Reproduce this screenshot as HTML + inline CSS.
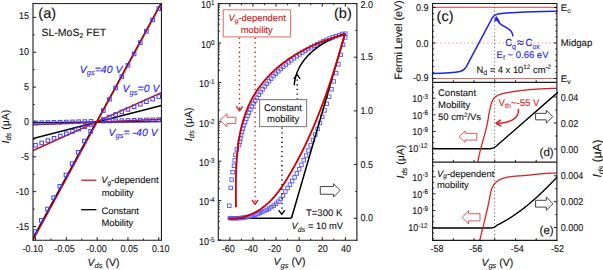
<!DOCTYPE html>
<html><head><meta charset="utf-8"><style>
html,body{margin:0;padding:0;background:#fff;width:603px;height:270px;overflow:hidden}
svg{display:block;font-family:"Liberation Sans", sans-serif;text-rendering:geometricPrecision}
</style></head><body>
<svg width="603" height="270" viewBox="0 0 603 270">
<rect width="603" height="270" fill="#fff"/>
<clipPath id="ca"><rect x="33.0" y="3.6" width="128.45" height="236.6"/></clipPath>
<g clip-path="url(#ca)">
<line x1="33.00" y1="122.80" x2="161.45" y2="121.50" stroke="#000" stroke-width="1.4" />
<line x1="33.00" y1="124.90" x2="161.45" y2="119.20" stroke="#dd0000" stroke-width="1.4" />
<line x1="33.00" y1="138.50" x2="161.45" y2="105.50" stroke="#000" stroke-width="1.4" />
<line x1="33.00" y1="150.60" x2="161.45" y2="92.60" stroke="#dd0000" stroke-width="1.4" />
<line x1="31.37" y1="240.50" x2="95.80" y2="122.20" stroke="#4040ff" stroke-width="1.1" />
<line x1="32.17" y1="240.50" x2="160.96" y2="3.30" stroke="#000" stroke-width="1.3" />
<line x1="32.87" y1="240.50" x2="161.46" y2="3.30" stroke="#dd0000" stroke-width="1.4" />
<rect x="33.75" y="121.03" width="3.6" height="3.6" fill="none" stroke="#4040ff" stroke-width="1.0"/>
<rect x="39.91" y="120.88" width="3.6" height="3.6" fill="none" stroke="#4040ff" stroke-width="1.0"/>
<rect x="46.07" y="120.72" width="3.6" height="3.6" fill="none" stroke="#4040ff" stroke-width="1.0"/>
<rect x="52.23" y="120.56" width="3.6" height="3.6" fill="none" stroke="#4040ff" stroke-width="1.0"/>
<rect x="58.39" y="120.40" width="3.6" height="3.6" fill="none" stroke="#4040ff" stroke-width="1.0"/>
<rect x="64.55" y="120.24" width="3.6" height="3.6" fill="none" stroke="#4040ff" stroke-width="1.0"/>
<rect x="70.71" y="120.08" width="3.6" height="3.6" fill="none" stroke="#4040ff" stroke-width="1.0"/>
<rect x="76.87" y="119.93" width="3.6" height="3.6" fill="none" stroke="#4040ff" stroke-width="1.0"/>
<rect x="83.03" y="119.77" width="3.6" height="3.6" fill="none" stroke="#4040ff" stroke-width="1.0"/>
<rect x="89.19" y="119.61" width="3.6" height="3.6" fill="none" stroke="#4040ff" stroke-width="1.0"/>
<rect x="101.51" y="119.29" width="3.6" height="3.6" fill="none" stroke="#4040ff" stroke-width="1.0"/>
<rect x="107.67" y="119.14" width="3.6" height="3.6" fill="none" stroke="#4040ff" stroke-width="1.0"/>
<rect x="113.83" y="118.98" width="3.6" height="3.6" fill="none" stroke="#4040ff" stroke-width="1.0"/>
<rect x="119.99" y="118.82" width="3.6" height="3.6" fill="none" stroke="#4040ff" stroke-width="1.0"/>
<rect x="126.15" y="118.66" width="3.6" height="3.6" fill="none" stroke="#4040ff" stroke-width="1.0"/>
<rect x="132.31" y="118.50" width="3.6" height="3.6" fill="none" stroke="#4040ff" stroke-width="1.0"/>
<rect x="138.47" y="118.34" width="3.6" height="3.6" fill="none" stroke="#4040ff" stroke-width="1.0"/>
<rect x="144.63" y="118.19" width="3.6" height="3.6" fill="none" stroke="#4040ff" stroke-width="1.0"/>
<rect x="150.79" y="118.03" width="3.6" height="3.6" fill="none" stroke="#4040ff" stroke-width="1.0"/>
<rect x="156.95" y="117.87" width="3.6" height="3.6" fill="none" stroke="#4040ff" stroke-width="1.0"/>
<rect x="33.75" y="143.44" width="3.6" height="3.6" fill="none" stroke="#4040ff" stroke-width="1.0"/>
<rect x="39.91" y="141.13" width="3.6" height="3.6" fill="none" stroke="#4040ff" stroke-width="1.0"/>
<rect x="46.07" y="138.82" width="3.6" height="3.6" fill="none" stroke="#4040ff" stroke-width="1.0"/>
<rect x="52.23" y="136.51" width="3.6" height="3.6" fill="none" stroke="#4040ff" stroke-width="1.0"/>
<rect x="58.39" y="134.20" width="3.6" height="3.6" fill="none" stroke="#4040ff" stroke-width="1.0"/>
<rect x="64.55" y="131.89" width="3.6" height="3.6" fill="none" stroke="#4040ff" stroke-width="1.0"/>
<rect x="70.71" y="129.58" width="3.6" height="3.6" fill="none" stroke="#4040ff" stroke-width="1.0"/>
<rect x="76.87" y="127.27" width="3.6" height="3.6" fill="none" stroke="#4040ff" stroke-width="1.0"/>
<rect x="83.03" y="124.96" width="3.6" height="3.6" fill="none" stroke="#4040ff" stroke-width="1.0"/>
<rect x="89.19" y="122.65" width="3.6" height="3.6" fill="none" stroke="#4040ff" stroke-width="1.0"/>
<rect x="101.51" y="117.78" width="3.6" height="3.6" fill="none" stroke="#4040ff" stroke-width="1.0"/>
<rect x="107.67" y="115.22" width="3.6" height="3.6" fill="none" stroke="#4040ff" stroke-width="1.0"/>
<rect x="113.83" y="112.67" width="3.6" height="3.6" fill="none" stroke="#4040ff" stroke-width="1.0"/>
<rect x="119.99" y="110.11" width="3.6" height="3.6" fill="none" stroke="#4040ff" stroke-width="1.0"/>
<rect x="126.15" y="107.56" width="3.6" height="3.6" fill="none" stroke="#4040ff" stroke-width="1.0"/>
<rect x="132.31" y="105.00" width="3.6" height="3.6" fill="none" stroke="#4040ff" stroke-width="1.0"/>
<rect x="138.47" y="102.44" width="3.6" height="3.6" fill="none" stroke="#4040ff" stroke-width="1.0"/>
<rect x="144.63" y="99.89" width="3.6" height="3.6" fill="none" stroke="#4040ff" stroke-width="1.0"/>
<rect x="150.79" y="97.33" width="3.6" height="3.6" fill="none" stroke="#4040ff" stroke-width="1.0"/>
<rect x="156.95" y="94.77" width="3.6" height="3.6" fill="none" stroke="#4040ff" stroke-width="1.0"/>
<rect x="33.35" y="229.90" width="3.6" height="3.6" fill="none" stroke="#4040ff" stroke-width="1.0"/>
<rect x="39.51" y="218.57" width="3.6" height="3.6" fill="none" stroke="#4040ff" stroke-width="1.0"/>
<rect x="45.67" y="207.24" width="3.6" height="3.6" fill="none" stroke="#4040ff" stroke-width="1.0"/>
<rect x="51.83" y="195.90" width="3.6" height="3.6" fill="none" stroke="#4040ff" stroke-width="1.0"/>
<rect x="57.99" y="184.57" width="3.6" height="3.6" fill="none" stroke="#4040ff" stroke-width="1.0"/>
<rect x="64.15" y="173.23" width="3.6" height="3.6" fill="none" stroke="#4040ff" stroke-width="1.0"/>
<rect x="70.31" y="161.90" width="3.6" height="3.6" fill="none" stroke="#4040ff" stroke-width="1.0"/>
<rect x="76.47" y="150.56" width="3.6" height="3.6" fill="none" stroke="#4040ff" stroke-width="1.0"/>
<rect x="82.63" y="139.23" width="3.6" height="3.6" fill="none" stroke="#4040ff" stroke-width="1.0"/>
<rect x="88.79" y="129.59" width="3.6" height="3.6" fill="none" stroke="#4040ff" stroke-width="1.0"/>
<rect x="101.51" y="108.79" width="3.6" height="3.6" fill="none" stroke="#4040ff" stroke-width="1.0"/>
<rect x="107.67" y="97.46" width="3.6" height="3.6" fill="none" stroke="#4040ff" stroke-width="1.0"/>
<rect x="113.83" y="86.12" width="3.6" height="3.6" fill="none" stroke="#4040ff" stroke-width="1.0"/>
<rect x="119.99" y="74.79" width="3.6" height="3.6" fill="none" stroke="#4040ff" stroke-width="1.0"/>
<rect x="126.15" y="63.45" width="3.6" height="3.6" fill="none" stroke="#4040ff" stroke-width="1.0"/>
<rect x="132.31" y="52.12" width="3.6" height="3.6" fill="none" stroke="#4040ff" stroke-width="1.0"/>
<rect x="138.47" y="40.78" width="3.6" height="3.6" fill="none" stroke="#4040ff" stroke-width="1.0"/>
<rect x="144.63" y="29.45" width="3.6" height="3.6" fill="none" stroke="#4040ff" stroke-width="1.0"/>
<rect x="150.79" y="18.11" width="3.6" height="3.6" fill="none" stroke="#4040ff" stroke-width="1.0"/>
<rect x="156.95" y="6.78" width="3.6" height="3.6" fill="none" stroke="#4040ff" stroke-width="1.0"/>
</g>
<line x1="33.00" y1="3.60" x2="161.45" y2="3.60" stroke="#1a1a1a" stroke-width="1.0" />
<line x1="33.00" y1="3.10" x2="33.00" y2="240.70" stroke="#1a1a1a" stroke-width="1.1" />
<line x1="161.45" y1="3.10" x2="161.45" y2="240.70" stroke="#1a1a1a" stroke-width="1.1" />
<line x1="32.50" y1="240.20" x2="161.95" y2="240.20" stroke="#1a1a1a" stroke-width="1.1" />
<line x1="33.00" y1="17.40" x2="36.00" y2="17.40" stroke="#1a1a1a" stroke-width="1.0" />
<text transform="translate(28.90 18.95) scale(1 1.1)" font-size="9" text-anchor="end" fill="#111" stroke="#111" stroke-width="0.1" >15</text>
<line x1="33.00" y1="52.25" x2="36.00" y2="52.25" stroke="#1a1a1a" stroke-width="1.0" />
<text transform="translate(28.90 55.35) scale(1 1.1)" font-size="9" text-anchor="end" fill="#111" stroke="#111" stroke-width="0.1" >10</text>
<line x1="33.00" y1="87.10" x2="36.00" y2="87.10" stroke="#1a1a1a" stroke-width="1.0" />
<text transform="translate(28.90 90.20) scale(1 1.1)" font-size="9" text-anchor="end" fill="#111" stroke="#111" stroke-width="0.1" >5</text>
<line x1="33.00" y1="121.95" x2="36.00" y2="121.95" stroke="#1a1a1a" stroke-width="1.0" />
<text transform="translate(28.90 125.05) scale(1 1.1)" font-size="9" text-anchor="end" fill="#111" stroke="#111" stroke-width="0.1" >0</text>
<line x1="33.00" y1="156.80" x2="36.00" y2="156.80" stroke="#1a1a1a" stroke-width="1.0" />
<text transform="translate(28.90 159.90) scale(1 1.1)" font-size="9" text-anchor="end" fill="#111" stroke="#111" stroke-width="0.1" >-5</text>
<line x1="33.00" y1="191.65" x2="36.00" y2="191.65" stroke="#1a1a1a" stroke-width="1.0" />
<text transform="translate(28.90 194.75) scale(1 1.1)" font-size="9" text-anchor="end" fill="#111" stroke="#111" stroke-width="0.1" >-10</text>
<line x1="33.00" y1="226.50" x2="36.00" y2="226.50" stroke="#1a1a1a" stroke-width="1.0" />
<text transform="translate(28.90 229.60) scale(1 1.1)" font-size="9" text-anchor="end" fill="#111" stroke="#111" stroke-width="0.1" >-15</text>
<line x1="33.00" y1="34.83" x2="34.60" y2="34.83" stroke="#1a1a1a" stroke-width="1.0" />
<line x1="33.00" y1="69.68" x2="34.60" y2="69.68" stroke="#1a1a1a" stroke-width="1.0" />
<line x1="33.00" y1="104.53" x2="34.60" y2="104.53" stroke="#1a1a1a" stroke-width="1.0" />
<line x1="33.00" y1="139.38" x2="34.60" y2="139.38" stroke="#1a1a1a" stroke-width="1.0" />
<line x1="33.00" y1="174.22" x2="34.60" y2="174.22" stroke="#1a1a1a" stroke-width="1.0" />
<line x1="33.00" y1="209.07" x2="34.60" y2="209.07" stroke="#1a1a1a" stroke-width="1.0" />
<line x1="35.55" y1="240.20" x2="35.55" y2="237.20" stroke="#1a1a1a" stroke-width="1.0" />
<text transform="translate(32.65 251.60) scale(1 1.1)" font-size="9" text-anchor="middle" fill="#111" stroke="#111" stroke-width="0.1" >-0.10</text>
<line x1="66.35" y1="240.20" x2="66.35" y2="237.20" stroke="#1a1a1a" stroke-width="1.0" />
<text transform="translate(64.45 251.60) scale(1 1.1)" font-size="9" text-anchor="middle" fill="#111" stroke="#111" stroke-width="0.1" >-0.05</text>
<line x1="97.15" y1="240.20" x2="97.15" y2="237.20" stroke="#1a1a1a" stroke-width="1.0" />
<text transform="translate(96.55 251.60) scale(1 1.1)" font-size="9" text-anchor="middle" fill="#111" stroke="#111" stroke-width="0.1" >-0.00</text>
<line x1="127.95" y1="240.20" x2="127.95" y2="237.20" stroke="#1a1a1a" stroke-width="1.0" />
<text transform="translate(129.15 251.60) scale(1 1.1)" font-size="9" text-anchor="middle" fill="#111" stroke="#111" stroke-width="0.1" >0.05</text>
<line x1="158.75" y1="240.20" x2="158.75" y2="237.20" stroke="#1a1a1a" stroke-width="1.0" />
<text transform="translate(160.75 251.60) scale(1 1.1)" font-size="9" text-anchor="middle" fill="#111" stroke="#111" stroke-width="0.1" >0.10</text>
<line x1="50.95" y1="240.20" x2="50.95" y2="238.60" stroke="#1a1a1a" stroke-width="1.0" />
<line x1="81.75" y1="240.20" x2="81.75" y2="238.60" stroke="#1a1a1a" stroke-width="1.0" />
<line x1="112.55" y1="240.20" x2="112.55" y2="238.60" stroke="#1a1a1a" stroke-width="1.0" />
<line x1="143.35" y1="240.20" x2="143.35" y2="238.60" stroke="#1a1a1a" stroke-width="1.0" />
<text transform="translate(38.30 17.80)" font-size="14.5" text-anchor="start" fill="#111" stroke="#111" stroke-width="0.1" >(a)</text>
<text transform="translate(41.50 35.60)" font-size="10.5" text-anchor="start" fill="#111" stroke="#111" stroke-width="0.1" >SL-MoS<tspan font-size="7" dy="2.2">2</tspan><tspan dy="-2.2"> FET</tspan></text>
<text transform="translate(79.80 72.50)" font-size="10.5" text-anchor="start" fill="#2323f0" stroke="#2323f0" stroke-width="0.1" ><tspan font-style="italic">V</tspan><tspan font-style="italic" font-size="7.5" dy="2.6">gs</tspan><tspan font-style="italic" dy="-2.6">=40 V</tspan></text>
<text transform="translate(122.60 92.00)" font-size="10.5" text-anchor="start" fill="#2323f0" stroke="#2323f0" stroke-width="0.1" ><tspan font-style="italic">V</tspan><tspan font-style="italic" font-size="7.5" dy="2.6">gs</tspan><tspan font-style="italic" dy="-2.6">=0 V</tspan></text>
<text transform="translate(108.60 135.60)" font-size="10.5" text-anchor="start" fill="#2323f0" stroke="#2323f0" stroke-width="0.1" ><tspan font-style="italic">V</tspan><tspan font-style="italic" font-size="7.5" dy="2.6">gs</tspan><tspan font-style="italic" dy="-2.6">= -40 V</tspan></text>
<line x1="81.30" y1="180.20" x2="96.30" y2="180.20" stroke="#dd0000" stroke-width="1.2" />
<line x1="81.10" y1="209.70" x2="96.40" y2="209.70" stroke="#000" stroke-width="1.3" />
<text transform="translate(101.20 183.30)" font-size="9.4" text-anchor="start" fill="#111" stroke="#111" stroke-width="0.1" ><tspan font-style="italic">V</tspan><tspan font-style="italic" font-size="6.5" dy="1.7">g</tspan><tspan dy="-1.7">-dependent</tspan></text>
<text transform="translate(101.80 195.60)" font-size="9.4" text-anchor="start" fill="#111" stroke="#111" stroke-width="0.1" >mobility</text>
<text transform="translate(101.40 213.90)" font-size="9.4" text-anchor="start" fill="#111" stroke="#111" stroke-width="0.1" >Constant</text>
<text transform="translate(101.40 226.40)" font-size="9.4" text-anchor="start" fill="#111" stroke="#111" stroke-width="0.1" >Mobility</text>
<text transform="translate(87.60 265.80)" font-size="10.5" text-anchor="start" fill="#111" stroke="#111" stroke-width="0.1" ><tspan font-style="italic">V</tspan><tspan font-style="italic" font-size="7.5" dy="2.4">ds</tspan><tspan dy="-2.4"> (V)</tspan></text>
<text transform="translate(8.90 143.50) rotate(-90)" font-size="10.5" text-anchor="start" fill="#111" stroke="#111" stroke-width="0.1" ><tspan font-style="italic">I</tspan><tspan font-style="italic" font-size="7.5" dy="2.4">ds</tspan><tspan dy="-2.4"> (μA)</tspan></text>
<clipPath id="cb"><rect x="218.3" y="3.6" width="138.59999999999997" height="236.6"/></clipPath>
<g clip-path="url(#cb)">
<path d="M228.5,218.3 L290.2,218.3 Q291.4,218.3 291.8,217.0" fill="none" stroke="#000" stroke-width="1.5" stroke-linejoin="round" stroke-linecap="round" />
<rect x="228.10" y="216.36" width="3.5" height="3.5" fill="none" stroke="#5656ff" stroke-width="0.9"/>
<rect x="230.41" y="216.49" width="3.5" height="3.5" fill="none" stroke="#5656ff" stroke-width="0.9"/>
<rect x="232.72" y="216.54" width="3.5" height="3.5" fill="none" stroke="#5656ff" stroke-width="0.9"/>
<rect x="235.03" y="216.49" width="3.5" height="3.5" fill="none" stroke="#5656ff" stroke-width="0.9"/>
<rect x="237.34" y="216.36" width="3.5" height="3.5" fill="none" stroke="#5656ff" stroke-width="0.9"/>
<rect x="239.65" y="216.15" width="3.5" height="3.5" fill="none" stroke="#5656ff" stroke-width="0.9"/>
<rect x="241.96" y="215.84" width="3.5" height="3.5" fill="none" stroke="#5656ff" stroke-width="0.9"/>
<rect x="244.27" y="215.45" width="3.5" height="3.5" fill="none" stroke="#5656ff" stroke-width="0.9"/>
<rect x="246.58" y="214.97" width="3.5" height="3.5" fill="none" stroke="#5656ff" stroke-width="0.9"/>
<rect x="248.89" y="214.40" width="3.5" height="3.5" fill="none" stroke="#5656ff" stroke-width="0.9"/>
<rect x="251.20" y="213.75" width="3.5" height="3.5" fill="none" stroke="#5656ff" stroke-width="0.9"/>
<rect x="253.51" y="213.01" width="3.5" height="3.5" fill="none" stroke="#5656ff" stroke-width="0.9"/>
<rect x="255.82" y="212.19" width="3.5" height="3.5" fill="none" stroke="#5656ff" stroke-width="0.9"/>
<rect x="258.13" y="211.28" width="3.5" height="3.5" fill="none" stroke="#5656ff" stroke-width="0.9"/>
<rect x="260.44" y="210.30" width="3.5" height="3.5" fill="none" stroke="#5656ff" stroke-width="0.9"/>
<rect x="262.75" y="209.23" width="3.5" height="3.5" fill="none" stroke="#5656ff" stroke-width="0.9"/>
<rect x="265.06" y="208.08" width="3.5" height="3.5" fill="none" stroke="#5656ff" stroke-width="0.9"/>
<rect x="267.37" y="206.83" width="3.5" height="3.5" fill="none" stroke="#5656ff" stroke-width="0.9"/>
<rect x="269.68" y="205.43" width="3.5" height="3.5" fill="none" stroke="#5656ff" stroke-width="0.9"/>
<rect x="271.99" y="203.86" width="3.5" height="3.5" fill="none" stroke="#5656ff" stroke-width="0.9"/>
<rect x="274.30" y="202.05" width="3.5" height="3.5" fill="none" stroke="#5656ff" stroke-width="0.9"/>
<rect x="276.61" y="199.90" width="3.5" height="3.5" fill="none" stroke="#5656ff" stroke-width="0.9"/>
<rect x="278.92" y="197.21" width="3.5" height="3.5" fill="none" stroke="#5656ff" stroke-width="0.9"/>
<rect x="281.23" y="193.75" width="3.5" height="3.5" fill="none" stroke="#5656ff" stroke-width="0.9"/>
<rect x="283.54" y="189.85" width="3.5" height="3.5" fill="none" stroke="#5656ff" stroke-width="0.9"/>
<rect x="285.85" y="186.23" width="3.5" height="3.5" fill="none" stroke="#5656ff" stroke-width="0.9"/>
<rect x="288.16" y="182.88" width="3.5" height="3.5" fill="none" stroke="#5656ff" stroke-width="0.9"/>
<rect x="290.47" y="179.36" width="3.5" height="3.5" fill="none" stroke="#5656ff" stroke-width="0.9"/>
<rect x="292.78" y="175.63" width="3.5" height="3.5" fill="none" stroke="#5656ff" stroke-width="0.9"/>
<rect x="295.09" y="171.69" width="3.5" height="3.5" fill="none" stroke="#5656ff" stroke-width="0.9"/>
<rect x="297.40" y="167.52" width="3.5" height="3.5" fill="none" stroke="#5656ff" stroke-width="0.9"/>
<rect x="299.71" y="163.13" width="3.5" height="3.5" fill="none" stroke="#5656ff" stroke-width="0.9"/>
<rect x="302.02" y="158.53" width="3.5" height="3.5" fill="none" stroke="#5656ff" stroke-width="0.9"/>
<rect x="304.33" y="153.73" width="3.5" height="3.5" fill="none" stroke="#5656ff" stroke-width="0.9"/>
<rect x="306.64" y="148.75" width="3.5" height="3.5" fill="none" stroke="#5656ff" stroke-width="0.9"/>
<rect x="308.95" y="143.61" width="3.5" height="3.5" fill="none" stroke="#5656ff" stroke-width="0.9"/>
<rect x="311.26" y="138.30" width="3.5" height="3.5" fill="none" stroke="#5656ff" stroke-width="0.9"/>
<rect x="313.57" y="132.81" width="3.5" height="3.5" fill="none" stroke="#5656ff" stroke-width="0.9"/>
<rect x="315.88" y="127.12" width="3.5" height="3.5" fill="none" stroke="#5656ff" stroke-width="0.9"/>
<rect x="318.19" y="121.22" width="3.5" height="3.5" fill="none" stroke="#5656ff" stroke-width="0.9"/>
<rect x="320.50" y="115.07" width="3.5" height="3.5" fill="none" stroke="#5656ff" stroke-width="0.9"/>
<rect x="322.81" y="108.66" width="3.5" height="3.5" fill="none" stroke="#5656ff" stroke-width="0.9"/>
<rect x="325.12" y="101.96" width="3.5" height="3.5" fill="none" stroke="#5656ff" stroke-width="0.9"/>
<rect x="327.43" y="94.93" width="3.5" height="3.5" fill="none" stroke="#5656ff" stroke-width="0.9"/>
<rect x="329.74" y="87.52" width="3.5" height="3.5" fill="none" stroke="#5656ff" stroke-width="0.9"/>
<rect x="332.05" y="79.70" width="3.5" height="3.5" fill="none" stroke="#5656ff" stroke-width="0.9"/>
<rect x="334.36" y="71.41" width="3.5" height="3.5" fill="none" stroke="#5656ff" stroke-width="0.9"/>
<rect x="336.67" y="62.58" width="3.5" height="3.5" fill="none" stroke="#5656ff" stroke-width="0.9"/>
<rect x="338.98" y="53.13" width="3.5" height="3.5" fill="none" stroke="#5656ff" stroke-width="0.9"/>
<rect x="341.29" y="42.96" width="3.5" height="3.5" fill="none" stroke="#5656ff" stroke-width="0.9"/>
<rect x="343.60" y="31.93" width="3.5" height="3.5" fill="none" stroke="#5656ff" stroke-width="0.9"/>
<rect x="343.55" y="35.75" width="3.5" height="3.5" fill="none" stroke="#5656ff" stroke-width="0.9"/>
<rect x="227.55" y="203.95" width="3.5" height="3.5" fill="none" stroke="#5656ff" stroke-width="0.9"/>
<rect x="228.95" y="186.05" width="3.5" height="3.5" fill="none" stroke="#5656ff" stroke-width="0.9"/>
<rect x="229.85" y="177.85" width="3.5" height="3.5" fill="none" stroke="#5656ff" stroke-width="0.9"/>
<rect x="230.85" y="170.45" width="3.5" height="3.5" fill="none" stroke="#5656ff" stroke-width="0.9"/>
<rect x="232.25" y="164.05" width="3.5" height="3.5" fill="none" stroke="#5656ff" stroke-width="0.9"/>
<rect x="232.95" y="158.65" width="3.5" height="3.5" fill="none" stroke="#5656ff" stroke-width="0.9"/>
<rect x="233.65" y="153.05" width="3.5" height="3.5" fill="none" stroke="#5656ff" stroke-width="0.9"/>
<rect x="235.05" y="147.65" width="3.5" height="3.5" fill="none" stroke="#5656ff" stroke-width="0.9"/>
<rect x="237.34" y="143.37" width="3.5" height="3.5" fill="none" stroke="#5656ff" stroke-width="0.9"/>
<rect x="237.94" y="140.02" width="3.5" height="3.5" fill="none" stroke="#5656ff" stroke-width="0.9"/>
<rect x="238.63" y="136.69" width="3.5" height="3.5" fill="none" stroke="#5656ff" stroke-width="0.9"/>
<rect x="239.41" y="133.38" width="3.5" height="3.5" fill="none" stroke="#5656ff" stroke-width="0.9"/>
<rect x="240.26" y="130.09" width="3.5" height="3.5" fill="none" stroke="#5656ff" stroke-width="0.9"/>
<rect x="241.21" y="126.82" width="3.5" height="3.5" fill="none" stroke="#5656ff" stroke-width="0.9"/>
<rect x="242.24" y="123.58" width="3.5" height="3.5" fill="none" stroke="#5656ff" stroke-width="0.9"/>
<rect x="243.35" y="120.37" width="3.5" height="3.5" fill="none" stroke="#5656ff" stroke-width="0.9"/>
<rect x="244.54" y="117.19" width="3.5" height="3.5" fill="none" stroke="#5656ff" stroke-width="0.9"/>
<rect x="245.82" y="114.03" width="3.5" height="3.5" fill="none" stroke="#5656ff" stroke-width="0.9"/>
<rect x="247.17" y="110.92" width="3.5" height="3.5" fill="none" stroke="#5656ff" stroke-width="0.9"/>
<rect x="248.61" y="107.84" width="3.5" height="3.5" fill="none" stroke="#5656ff" stroke-width="0.9"/>
<rect x="250.13" y="104.79" width="3.5" height="3.5" fill="none" stroke="#5656ff" stroke-width="0.9"/>
<rect x="251.73" y="101.79" width="3.5" height="3.5" fill="none" stroke="#5656ff" stroke-width="0.9"/>
<rect x="253.40" y="98.83" width="3.5" height="3.5" fill="none" stroke="#5656ff" stroke-width="0.9"/>
<rect x="255.15" y="95.92" width="3.5" height="3.5" fill="none" stroke="#5656ff" stroke-width="0.9"/>
<rect x="256.98" y="93.05" width="3.5" height="3.5" fill="none" stroke="#5656ff" stroke-width="0.9"/>
<rect x="258.88" y="90.23" width="3.5" height="3.5" fill="none" stroke="#5656ff" stroke-width="0.9"/>
<rect x="260.85" y="87.46" width="3.5" height="3.5" fill="none" stroke="#5656ff" stroke-width="0.9"/>
<rect x="262.89" y="84.74" width="3.5" height="3.5" fill="none" stroke="#5656ff" stroke-width="0.9"/>
<rect x="265.00" y="82.08" width="3.5" height="3.5" fill="none" stroke="#5656ff" stroke-width="0.9"/>
<rect x="267.18" y="79.47" width="3.5" height="3.5" fill="none" stroke="#5656ff" stroke-width="0.9"/>
<rect x="269.43" y="76.92" width="3.5" height="3.5" fill="none" stroke="#5656ff" stroke-width="0.9"/>
<rect x="271.74" y="74.42" width="3.5" height="3.5" fill="none" stroke="#5656ff" stroke-width="0.9"/>
<rect x="274.11" y="71.98" width="3.5" height="3.5" fill="none" stroke="#5656ff" stroke-width="0.9"/>
<rect x="276.53" y="69.60" width="3.5" height="3.5" fill="none" stroke="#5656ff" stroke-width="0.9"/>
<rect x="279.02" y="67.28" width="3.5" height="3.5" fill="none" stroke="#5656ff" stroke-width="0.9"/>
<rect x="281.55" y="65.01" width="3.5" height="3.5" fill="none" stroke="#5656ff" stroke-width="0.9"/>
<rect x="284.14" y="62.81" width="3.5" height="3.5" fill="none" stroke="#5656ff" stroke-width="0.9"/>
<rect x="286.78" y="60.66" width="3.5" height="3.5" fill="none" stroke="#5656ff" stroke-width="0.9"/>
<rect x="289.46" y="58.58" width="3.5" height="3.5" fill="none" stroke="#5656ff" stroke-width="0.9"/>
<rect x="292.19" y="56.55" width="3.5" height="3.5" fill="none" stroke="#5656ff" stroke-width="0.9"/>
<rect x="294.97" y="54.58" width="3.5" height="3.5" fill="none" stroke="#5656ff" stroke-width="0.9"/>
<rect x="297.78" y="52.67" width="3.5" height="3.5" fill="none" stroke="#5656ff" stroke-width="0.9"/>
<rect x="300.63" y="50.83" width="3.5" height="3.5" fill="none" stroke="#5656ff" stroke-width="0.9"/>
<rect x="303.52" y="49.04" width="3.5" height="3.5" fill="none" stroke="#5656ff" stroke-width="0.9"/>
<rect x="306.45" y="47.31" width="3.5" height="3.5" fill="none" stroke="#5656ff" stroke-width="0.9"/>
<rect x="309.41" y="45.64" width="3.5" height="3.5" fill="none" stroke="#5656ff" stroke-width="0.9"/>
<rect x="312.41" y="44.03" width="3.5" height="3.5" fill="none" stroke="#5656ff" stroke-width="0.9"/>
<rect x="315.43" y="42.48" width="3.5" height="3.5" fill="none" stroke="#5656ff" stroke-width="0.9"/>
<rect x="318.49" y="40.99" width="3.5" height="3.5" fill="none" stroke="#5656ff" stroke-width="0.9"/>
<rect x="321.57" y="39.56" width="3.5" height="3.5" fill="none" stroke="#5656ff" stroke-width="0.9"/>
<rect x="324.68" y="38.18" width="3.5" height="3.5" fill="none" stroke="#5656ff" stroke-width="0.9"/>
<rect x="327.82" y="36.87" width="3.5" height="3.5" fill="none" stroke="#5656ff" stroke-width="0.9"/>
<rect x="330.98" y="35.62" width="3.5" height="3.5" fill="none" stroke="#5656ff" stroke-width="0.9"/>
<rect x="334.17" y="34.43" width="3.5" height="3.5" fill="none" stroke="#5656ff" stroke-width="0.9"/>
<rect x="337.37" y="33.30" width="3.5" height="3.5" fill="none" stroke="#5656ff" stroke-width="0.9"/>
<rect x="340.60" y="32.23" width="3.5" height="3.5" fill="none" stroke="#5656ff" stroke-width="0.9"/>
<path d="M291.8,217.0 L345.0,34.0" fill="none" stroke="#000" stroke-width="1.5" stroke-linejoin="round" stroke-linecap="round" />
<path d="M294.29,84.53 L294.33,84.13 L294.37,83.74 L294.41,83.35 L294.45,82.96 L294.50,82.57 L294.55,82.18 L294.61,81.80 L294.67,81.41 L294.73,81.03 L294.80,80.65 L294.87,80.27 L294.94,79.89 L295.01,79.51 L295.09,79.13 L295.17,78.76 L295.26,78.39 L295.34,78.01 L295.43,77.64 L295.53,77.27 L295.63,76.91 L295.73,76.54 L295.83,76.18 L295.93,75.81 L296.04,75.45 L296.16,75.09 L296.27,74.73 L296.39,74.37 L296.51,74.02 L296.63,73.66 L296.76,73.31 L296.89,72.95 L297.02,72.60 L297.15,72.25 L297.29,71.91 L297.43,71.56 L297.58,71.21 L297.72,70.87 L297.87,70.53 L298.02,70.19 L298.18,69.85 L298.33,69.51 L298.49,69.17 L298.66,68.84 L298.82,68.50 L298.99,68.17 L299.16,67.84 L299.33,67.51 L299.50,67.18 L299.68,66.86 L299.86,66.53 L300.04,66.21 L300.23,65.88 L300.42,65.56 L300.61,65.24 L300.80,64.92 L300.99,64.61 L301.19,64.29 L301.39,63.98 L301.59,63.66 L301.79,63.35 L302.00,63.04 L302.21,62.73 L302.42,62.43 L302.63,62.12 L302.85,61.82 L303.07,61.51 L303.29,61.21 L303.51,60.91 L303.73,60.61 L303.96,60.32 L304.19,60.02 L304.42,59.73 L304.65,59.43 L304.88,59.14 L305.12,58.85 L305.36,58.56 L305.60,58.27 L305.84,57.99 L306.08,57.70 L306.33,57.42 L306.58,57.14 L306.83,56.86 L307.08,56.58 L307.33,56.30 L307.59,56.03 L307.85,55.75 L308.11,55.48 L308.37,55.21 L308.63,54.94 L308.89,54.67 L309.16,54.40 L309.43,54.13 L309.70,53.87 L309.97,53.60 L310.24,53.34 L310.52,53.08 L310.79,52.82 L311.07,52.57 L311.35,52.31 L311.63,52.05 L311.92,51.80 L312.20,51.55 L312.48,51.30 L312.77,51.05 L313.06,50.80 L313.35,50.56 L313.64,50.31 L313.93,50.07 L314.23,49.82 L314.52,49.58 L314.82,49.34 L315.12,49.11 L315.42,48.87 L315.72,48.64 L316.02,48.40 L316.33,48.17 L316.63,47.94 L316.94,47.71 L317.24,47.48 L317.55,47.26 L317.86,47.03 L318.17,46.81 L318.49,46.58 L318.80,46.36 L319.11,46.14 L319.43,45.93 L319.74,45.71 L320.06,45.50 L320.38,45.28 L320.70,45.07 L321.02,44.86 L321.34,44.65 L321.66,44.44 L321.99,44.23 L322.31,44.03 L322.63,43.83 L322.96,43.62 L323.29,43.42 L323.61,43.22 L323.94,43.03 L324.27,42.83 L324.60,42.63 L324.93,42.44 L325.26,42.25 L325.60,42.06 L325.93,41.87 L326.26,41.68 L326.60,41.49 L326.93,41.31 L327.27,41.12 L327.60,40.94 L327.94,40.76 L328.28,40.58 L328.61,40.40 L328.95,40.23 L329.29,40.05 L329.63,39.88 L329.97,39.70 L330.31,39.53 L330.65,39.36 L330.99,39.20 L331.33,39.03 L331.68,38.86 L332.02,38.70 L332.36,38.54 L332.70,38.38 L333.05,38.22 L333.39,38.06 L333.73,37.90 L334.08,37.75 L334.42,37.59 L334.77,37.44 L335.11,37.29 L335.46,37.14 L335.80,36.99 L336.15,36.85 L336.49,36.70 L336.84,36.56 L337.18,36.42 L337.53,36.28 L337.88,36.14 L338.22,36.00 L338.57,35.86 L338.91,35.73 L339.26,35.59 L339.60,35.46 L339.95,35.33 L340.29,35.20 L340.64,35.07 L340.99,34.95 L341.33,34.82 L341.68,34.70 L342.02,34.57 L342.37,34.45 L342.71,34.33 L343.05,34.22 L343.40,34.10 L343.74,33.99 L344.08,33.87" fill="none" stroke="#000" stroke-width="1.5" stroke-linejoin="round" stroke-linecap="round" />
<path d="M229.67,218.79 L230.12,218.81 L230.57,218.83 L231.01,218.84 L231.46,218.84 L231.91,218.84 L232.36,218.83 L232.81,218.82 L233.25,218.80 L233.70,218.78 L234.15,218.75 L234.60,218.72 L235.05,218.68 L235.50,218.64 L235.95,218.59 L236.41,218.54 L236.86,218.48 L237.31,218.41 L237.76,218.35 L238.21,218.27 L238.66,218.20 L239.11,218.12 L239.56,218.03 L240.01,217.94 L240.45,217.84 L240.90,217.74 L241.35,217.64 L241.80,217.53 L242.25,217.42 L242.70,217.30 L243.14,217.18 L243.59,217.06 L244.03,216.93 L244.48,216.79 L244.92,216.66 L245.37,216.52 L245.81,216.37 L246.25,216.22 L246.69,216.07 L247.13,215.92 L247.57,215.76 L248.01,215.59 L248.45,215.43 L248.89,215.26 L249.32,215.08 L249.76,214.91 L250.19,214.73 L250.62,214.54 L251.05,214.36 L251.48,214.17 L251.91,213.97 L252.33,213.78 L252.76,213.58 L253.18,213.37 L253.60,213.17 L254.02,212.96 L254.44,212.74 L254.86,212.53 L255.27,212.31 L255.68,212.09 L256.09,211.86 L256.50,211.63 L256.91,211.40 L257.31,211.17 L257.71,210.93 L258.11,210.69 L258.51,210.45 L258.91,210.20 L259.30,209.95 L259.69,209.70 L260.08,209.45 L260.46,209.19 L260.85,208.93 L261.23,208.67 L261.61,208.41 L261.98,208.14 L262.35,207.87 L262.72,207.60 L263.09,207.33 L263.46,207.05 L263.82,206.77 L264.18,206.49 L264.54,206.20 L264.90,205.92 L265.25,205.63 L265.60,205.34 L265.95,205.04 L266.30,204.75 L266.65,204.45 L266.99,204.15 L267.33,203.85 L267.67,203.54 L268.01,203.24 L268.34,202.93 L268.67,202.62 L269.00,202.30 L269.33,201.99 L269.66,201.67 L269.98,201.35 L270.30,201.03 L270.62,200.71 L270.94,200.38 L271.26,200.06 L271.57,199.73 L271.89,199.40 L272.20,199.07 L272.51,198.73 L272.81,198.40 L273.12,198.06 L273.42,197.72 L273.72,197.38 L274.02,197.03 L274.32,196.69 L274.62,196.34 L274.91,196.00 L275.21,195.65 L275.50,195.30 L275.79,194.94 L276.08,194.59 L276.37,194.24 L276.65,193.88 L276.94,193.52 L277.22,193.16 L277.50,192.80 L277.78,192.44 L278.06,192.08 L278.33,191.71 L278.61,191.34 L278.88,190.98 L279.16,190.61 L279.43,190.24 L279.70,189.87 L279.97,189.50 L280.24,189.12 L280.50,188.75 L280.77,188.37 L281.03,188.00 L281.29,187.62 L281.56,187.24 L281.82,186.86 L282.08,186.48 L282.33,186.10 L282.59,185.72 L282.85,185.34 L283.10,184.95 L283.36,184.57 L283.61,184.18 L283.86,183.80 L284.11,183.41 L284.36,183.02 L284.61,182.63 L284.86,182.24 L285.11,181.85 L285.36,181.46 L285.60,181.07 L285.85,180.68 L286.09,180.29 L286.34,179.90 L286.58,179.50 L286.82,179.11 L287.07,178.72 L287.31,178.32 L287.55,177.93 L287.79,177.53 L288.03,177.14 L288.27,176.74 L288.50,176.35 L288.74,175.95 L288.98,175.55 L289.21,175.16 L289.45,174.76 L289.69,174.36 L289.92,173.96 L290.15,173.57 L290.39,173.17 L290.62,172.77 L290.85,172.37 L291.09,171.97 L291.32,171.57 L291.55,171.17 L291.78,170.77 L292.01,170.37 L292.24,169.97 L292.47,169.57 L292.70,169.17 L292.92,168.77 L293.15,168.37 L293.38,167.97 L293.60,167.56 L293.83,167.16 L294.06,166.76 L294.28,166.36 L294.50,165.95 L294.73,165.55 L294.95,165.15 L295.17,164.74 L295.40,164.34 L295.62,163.93 L295.84,163.53 L296.06,163.12 L296.28,162.72 L296.50,162.31 L296.72,161.91 L296.94,161.50 L297.15,161.09 L297.37,160.69 L297.59,160.28 L297.80,159.87 L298.02,159.47 L298.24,159.06 L298.45,158.65 L298.67,158.24 L298.88,157.84 L299.09,157.43 L299.31,157.02 L299.52,156.61 L299.73,156.20 L299.94,155.79 L300.15,155.38 L300.36,154.97 L300.57,154.56 L300.78,154.15 L300.99,153.74 L301.20,153.33 L301.41,152.92 L301.62,152.51 L301.82,152.09 L302.03,151.68 L302.24,151.27 L302.44,150.86 L302.65,150.45 L302.85,150.03 L303.06,149.62 L303.26,149.21 L303.46,148.79 L303.67,148.38 L303.87,147.97 L304.07,147.55 L304.27,147.14 L304.47,146.72 L304.68,146.31 L304.88,145.89 L305.08,145.48 L305.27,145.06 L305.47,144.65 L305.67,144.23 L305.87,143.82 L306.07,143.40 L306.26,142.98 L306.46,142.57 L306.66,142.15 L306.85,141.73 L307.05,141.31 L307.24,140.90 L307.44,140.48 L307.63,140.06 L307.82,139.64 L308.02,139.22 L308.21,138.81 L308.40,138.39 L308.59,137.97 L308.78,137.55 L308.97,137.13 L309.16,136.71 L309.35,136.29 L309.54,135.87 L309.73,135.45 L309.92,135.03 L310.11,134.61 L310.30,134.19 L310.49,133.77 L310.67,133.35 L310.86,132.93 L311.04,132.50 L311.23,132.08 L311.42,131.66 L311.60,131.24 L311.78,130.82 L311.97,130.39 L312.15,129.97 L312.34,129.55 L312.52,129.12 L312.70,128.70 L312.88,128.28 L313.06,127.85 L313.25,127.43 L313.43,127.01 L313.61,126.58 L313.79,126.16 L313.97,125.73 L314.15,125.31 L314.32,124.88 L314.50,124.46 L314.68,124.03 L314.86,123.61 L315.04,123.18 L315.21,122.76 L315.39,122.33 L315.56,121.91 L315.74,121.48 L315.92,121.05 L316.09,120.63 L316.26,120.20 L316.44,119.77 L316.61,119.35 L316.79,118.92 L316.96,118.49 L317.13,118.07 L317.30,117.64 L317.48,117.21 L317.65,116.78 L317.82,116.35 L317.99,115.93 L318.16,115.50 L318.33,115.07 L318.50,114.64 L318.67,114.21 L318.84,113.78 L319.00,113.35 L319.17,112.92 L319.34,112.49 L319.51,112.06 L319.68,111.64 L319.84,111.21 L320.01,110.78 L320.17,110.35 L320.34,109.91 L320.51,109.48 L320.67,109.05 L320.83,108.62 L321.00,108.19 L321.16,107.76 L321.33,107.33 L321.49,106.90 L321.65,106.47 L321.81,106.04 L321.98,105.60 L322.14,105.17 L322.30,104.74 L322.46,104.31 L322.62,103.88 L322.78,103.44 L322.94,103.01 L323.10,102.58 L323.26,102.15 L323.42,101.71 L323.58,101.28 L323.74,100.85 L323.90,100.41 L324.05,99.98 L324.21,99.55 L324.37,99.11 L324.53,98.68 L324.68,98.25 L324.84,97.81 L325.00,97.38 L325.15,96.94 L325.31,96.51 L325.46,96.08 L325.62,95.64 L325.77,95.21 L325.92,94.77 L326.08,94.34 L326.23,93.90 L326.38,93.47 L326.54,93.03 L326.69,92.60 L326.84,92.16 L326.99,91.73 L327.15,91.29 L327.30,90.86 L327.45,90.42 L327.60,89.98 L327.75,89.55 L327.90,89.11 L328.05,88.68 L328.20,88.24 L328.35,87.80 L328.50,87.37 L328.65,86.93 L328.79,86.49 L328.94,86.06 L329.09,85.62 L329.24,85.18 L329.38,84.75 L329.53,84.31 L329.68,83.87 L329.82,83.43 L329.97,83.00 L330.12,82.56 L330.26,82.12 L330.41,81.68 L330.55,81.25 L330.70,80.81 L330.84,80.37 L330.99,79.93 L331.13,79.50 L331.27,79.06 L331.42,78.62 L331.56,78.18 L331.70,77.74 L331.85,77.30 L331.99,76.87 L332.13,76.43 L332.27,75.99 L332.42,75.55 L332.56,75.11 L332.70,74.67 L332.84,74.23 L332.98,73.80 L333.12,73.36 L333.26,72.92 L333.40,72.48 L333.54,72.04 L333.68,71.60 L333.82,71.16 L333.96,70.72 L334.10,70.28 L334.23,69.84 L334.37,69.40 L334.51,68.96 L334.65,68.52 L334.79,68.08 L334.92,67.64 L335.06,67.20 L335.20,66.76 L335.33,66.32 L335.47,65.88 L335.61,65.44 L335.74,65.00 L335.88,64.56 L336.01,64.12 L336.15,63.68 L336.28,63.24 L336.42,62.80 L336.55,62.36 L336.69,61.92 L336.82,61.48 L336.96,61.04 L337.09,60.60 L337.22,60.16 L337.36,59.72 L337.49,59.28 L337.62,58.84 L337.76,58.40 L337.89,57.96 L338.02,57.52 L338.15,57.08 L338.28,56.64 L338.42,56.20 L338.55,55.75 L338.68,55.31 L338.81,54.87 L338.94,54.43 L339.07,53.99 L339.20,53.55 L339.33,53.11 L339.46,52.67 L339.59,52.23 L339.72,51.79 L339.85,51.34 L339.98,50.90 L340.11,50.46 L340.24,50.02 L340.37,49.58 L340.50,49.14 L340.63,48.70 L340.75,48.26 L340.88,47.82 L341.01,47.37 L341.14,46.93 L341.27,46.49 L341.39,46.05 L341.52,45.61 L341.65,45.17 L341.78,44.73 L341.90,44.29 L342.03,43.84 L342.16,43.40 L342.28,42.96 L342.41,42.52 L342.53,42.08 L342.66,41.64 L342.79,41.20 L342.91,40.76 L343.04,40.31 L343.16,39.87 L343.29,39.43 L343.41,38.99 L343.54,38.55 L343.66,38.11 L343.79,37.67 L343.91,37.23 L344.03,36.78 L344.16,36.34 L344.28,35.90 L344.41,35.46 L344.53,35.02 L344.65,34.58 L344.78,34.14" fill="none" stroke="#d20000" stroke-width="1.85" stroke-linejoin="round" stroke-linecap="round" />
<path d="M235.99,206.57 L235.98,206.14 L235.98,205.71 L235.97,205.27 L235.97,204.84 L235.96,204.41 L235.96,203.97 L235.96,203.54 L235.95,203.10 L235.95,202.66 L235.94,202.23 L235.94,201.79 L235.93,201.35 L235.93,200.91 L235.93,200.47 L235.92,200.03 L235.92,199.59 L235.91,199.15 L235.91,198.71 L235.91,198.27 L235.90,197.83 L235.90,197.38 L235.90,196.94 L235.89,196.50 L235.89,196.05 L235.89,195.61 L235.88,195.16 L235.88,194.72 L235.88,194.27 L235.87,193.83 L235.87,193.38 L235.87,192.93 L235.87,192.49 L235.87,192.04 L235.86,191.59 L235.86,191.14 L235.86,190.69 L235.86,190.24 L235.86,189.79 L235.86,189.34 L235.86,188.89 L235.86,188.44 L235.86,187.99 L235.86,187.54 L235.86,187.09 L235.86,186.64 L235.86,186.19 L235.87,185.73 L235.87,185.28 L235.87,184.83 L235.87,184.37 L235.88,183.92 L235.88,183.47 L235.88,183.01 L235.89,182.56 L235.89,182.10 L235.90,181.65 L235.90,181.19 L235.91,180.74 L235.91,180.28 L235.92,179.83 L235.93,179.37 L235.93,178.91 L235.94,178.46 L235.95,178.00 L235.96,177.54 L235.97,177.09 L235.98,176.63 L235.99,176.17 L236.00,175.71 L236.01,175.26 L236.02,174.80 L236.03,174.34 L236.04,173.88 L236.06,173.42 L236.07,172.97 L236.09,172.51 L236.10,172.05 L236.11,171.59 L236.13,171.13 L236.15,170.67 L236.16,170.21 L236.18,169.75 L236.20,169.29 L236.22,168.83 L236.24,168.38 L236.26,167.92 L236.28,167.46 L236.30,167.00 L236.32,166.54 L236.34,166.08 L236.36,165.62 L236.39,165.16 L236.41,164.70 L236.44,164.24 L236.46,163.78 L236.49,163.32 L236.51,162.86 L236.54,162.40 L236.57,161.94 L236.60,161.48 L236.63,161.02 L236.66,160.56 L236.69,160.10 L236.72,159.64 L236.75,159.18 L236.79,158.72 L236.82,158.26 L236.86,157.80 L236.89,157.34 L236.93,156.88 L236.97,156.42 L237.00,155.97 L237.04,155.51 L237.08,155.05 L237.12,154.59 L237.16,154.13 L237.21,153.67 L237.25,153.21 L237.29,152.76 L237.34,152.30 L237.38,151.84 L237.43,151.38 L237.48,150.92 L237.53,150.47 L237.58,150.01 L237.63,149.55 L237.68,149.10 L237.73,148.64 L237.78,148.18 L237.84,147.73 L237.89,147.27 L237.95,146.82 L238.00,146.36 L238.06,145.90 L238.12,145.45 L238.18,144.99 L238.24,144.54 L238.30,144.09 L238.36,143.63 L238.43,143.18 L238.49,142.72 L238.56,142.27 L238.62,141.82 L238.69,141.36 L238.76,140.91 L238.83,140.46 L238.90,140.01 L238.97,139.56 L239.05,139.11 L239.12,138.65 L239.20,138.20 L239.27,137.75 L239.35,137.30 L239.43,136.85 L239.51,136.41 L239.59,135.96 L239.67,135.51 L239.76,135.06 L239.84,134.61 L239.93,134.17 L240.01,133.72 L240.10,133.27 L240.19,132.83 L240.28,132.38 L240.37,131.94 L240.47,131.49 L240.56,131.05 L240.66,130.60 L240.75,130.16 L240.85,129.72 L240.95,129.27 L241.05,128.83 L241.15,128.39 L241.25,127.95 L241.36,127.51 L241.46,127.07 L241.57,126.63 L241.68,126.19 L241.79,125.75 L241.90,125.31 L242.01,124.88 L242.12,124.44 L242.24,124.00 L242.35,123.57 L242.47,123.13 L242.59,122.70 L242.71,122.26 L242.83,121.83 L242.96,121.39 L243.08,120.96 L243.21,120.53 L243.33,120.10 L243.46,119.67 L243.59,119.24 L243.72,118.81 L243.86,118.38 L243.99,117.95 L244.13,117.52 L244.26,117.09 L244.40,116.67 L244.54,116.24 L244.69,115.82 L244.83,115.39 L244.97,114.97 L245.12,114.54 L245.27,114.12 L245.42,113.70 L245.57,113.28 L245.72,112.86 L245.88,112.44 L246.03,112.02 L246.19,111.60 L246.35,111.18 L246.51,110.77 L246.67,110.35 L246.83,109.93 L247.00,109.52 L247.17,109.11 L247.33,108.69 L247.50,108.28 L247.68,107.87 L247.85,107.46 L248.02,107.05 L248.20,106.64 L248.38,106.23 L248.56,105.82 L248.74,105.41 L248.92,105.01 L249.11,104.60 L249.30,104.20 L249.48,103.79 L249.67,103.39 L249.87,102.99 L250.06,102.59 L250.26,102.19 L250.45,101.79 L250.65,101.39 L250.85,100.99 L251.06,100.59 L251.26,100.20 L251.47,99.80 L251.67,99.41 L251.88,99.01 L252.10,98.62 L252.31,98.23 L252.52,97.84 L252.74,97.45 L252.96,97.06 L253.18,96.67 L253.40,96.29 L253.63,95.90 L253.85,95.51 L254.08,95.13 L254.31,94.75 L254.54,94.36 L254.78,93.98 L255.01,93.60 L255.25,93.22 L255.49,92.84 L255.73,92.47 L255.97,92.09 L256.21,91.71 L256.46,91.34 L256.70,90.97 L256.95,90.59 L257.20,90.22 L257.45,89.85 L257.71,89.48 L257.96,89.11 L258.22,88.75 L258.48,88.38 L258.74,88.01 L259.00,87.65 L259.26,87.28 L259.53,86.92 L259.80,86.56 L260.06,86.20 L260.33,85.84 L260.60,85.48 L260.88,85.12 L261.15,84.77 L261.43,84.41 L261.71,84.06 L261.98,83.70 L262.27,83.35 L262.55,83.00 L262.83,82.65 L263.12,82.30 L263.40,81.95 L263.69,81.60 L263.98,81.26 L264.27,80.91 L264.57,80.57 L264.86,80.22 L265.15,79.88 L265.45,79.54 L265.75,79.20 L266.05,78.86 L266.35,78.53 L266.65,78.19 L266.96,77.85 L267.26,77.52 L267.57,77.19 L267.88,76.85 L268.19,76.52 L268.50,76.19 L268.81,75.86 L269.13,75.54 L269.44,75.21 L269.76,74.88 L270.08,74.56 L270.39,74.24 L270.71,73.91 L271.04,73.59 L271.36,73.27 L271.68,72.95 L272.01,72.64 L272.34,72.32 L272.66,72.00 L272.99,71.69 L273.32,71.38 L273.66,71.07 L273.99,70.76 L274.32,70.45 L274.66,70.14 L275.00,69.83 L275.33,69.52 L275.67,69.22 L276.01,68.92 L276.36,68.61 L276.70,68.31 L277.04,68.01 L277.39,67.71 L277.73,67.41 L278.08,67.12 L278.43,66.82 L278.78,66.53 L279.13,66.24 L279.48,65.94 L279.84,65.65 L280.19,65.36 L280.54,65.08 L280.90,64.79 L281.26,64.50 L281.62,64.22 L281.98,63.93 L282.34,63.65 L282.70,63.37 L283.06,63.09 L283.43,62.81 L283.79,62.54 L284.16,62.26 L284.52,61.99 L284.89,61.71 L285.26,61.44 L285.63,61.17 L286.00,60.90 L286.37,60.63 L286.74,60.37 L287.12,60.10 L287.49,59.84 L287.87,59.57 L288.24,59.31 L288.62,59.05 L289.00,58.79 L289.38,58.53 L289.76,58.28 L290.14,58.02 L290.52,57.77 L290.90,57.51 L291.29,57.26 L291.67,57.01 L292.06,56.76 L292.44,56.51 L292.83,56.27 L293.22,56.02 L293.61,55.78 L294.00,55.54 L294.39,55.30 L294.78,55.06 L295.17,54.82 L295.56,54.58 L295.96,54.34 L296.35,54.11 L296.75,53.87 L297.14,53.64 L297.54,53.41 L297.93,53.18 L298.33,52.95 L298.73,52.72 L299.13,52.50 L299.53,52.27 L299.93,52.05 L300.33,51.82 L300.73,51.60 L301.13,51.38 L301.54,51.16 L301.94,50.94 L302.35,50.73 L302.75,50.51 L303.16,50.30 L303.56,50.08 L303.97,49.87 L304.38,49.66 L304.78,49.45 L305.19,49.24 L305.60,49.04 L306.01,48.83 L306.42,48.62 L306.83,48.42 L307.24,48.22 L307.65,48.01 L308.07,47.81 L308.48,47.61 L308.89,47.42 L309.31,47.22 L309.72,47.02 L310.13,46.83 L310.55,46.63 L310.96,46.44 L311.38,46.25 L311.80,46.06 L312.21,45.87 L312.63,45.68 L313.05,45.49 L313.47,45.31 L313.88,45.12 L314.30,44.94 L314.72,44.76 L315.14,44.58 L315.56,44.39 L315.98,44.21 L316.40,44.04 L316.82,43.86 L317.24,43.68 L317.66,43.51 L318.08,43.33 L318.51,43.16 L318.93,42.99 L319.35,42.82 L319.77,42.65 L320.19,42.48 L320.62,42.31 L321.04,42.14 L321.46,41.98 L321.89,41.81 L322.31,41.65 L322.74,41.48 L323.16,41.32 L323.58,41.16 L324.01,41.00 L324.43,40.84 L324.86,40.68 L325.28,40.53 L325.71,40.37 L326.13,40.22 L326.56,40.06 L326.98,39.91 L327.41,39.76 L327.83,39.61 L328.26,39.46 L328.69,39.31 L329.11,39.16 L329.54,39.01 L329.96,38.87 L330.39,38.72 L330.81,38.58 L331.24,38.43 L331.67,38.29 L332.09,38.15 L332.52,38.01 L332.94,37.87 L333.37,37.73 L333.80,37.59 L334.22,37.45 L334.65,37.32 L335.07,37.18 L335.50,37.05 L335.92,36.92 L336.35,36.78 L336.77,36.65 L337.20,36.52 L337.62,36.39 L338.05,36.26 L338.47,36.14 L338.90,36.01 L339.32,35.88 L339.75,35.76 L340.17,35.63 L340.60,35.51 L341.02,35.39 L341.44,35.26 L341.87,35.14 L342.29,35.02 L342.71,34.90 L343.14,34.79 L343.56,34.67 L343.98,34.55 L344.40,34.43" fill="none" stroke="#d20000" stroke-width="1.85" stroke-linejoin="round" stroke-linecap="round" />
<line x1="239.50" y1="37.60" x2="239.50" y2="108.80" stroke="#dd1010" stroke-width="1.35" stroke-dasharray="1.35 3.3"/>
<path d="M236.70,106.90 L239.50,110.80 L242.30,106.90" fill="none" stroke="#dd1010" stroke-width="1.4" stroke-linejoin="round" stroke-linecap="round" />
<line x1="255.10" y1="37.60" x2="255.10" y2="202.30" stroke="#dd1010" stroke-width="1.35" stroke-dasharray="1.35 3.3"/>
<path d="M252.30,200.40 L255.10,204.30 L257.90,200.40" fill="none" stroke="#dd1010" stroke-width="1.4" stroke-linejoin="round" stroke-linecap="round" />
<line x1="297.20" y1="99.50" x2="297.20" y2="76.00" stroke="#000" stroke-width="1.35" stroke-dasharray="1.3 3.4"/>
<path d="M294.2,78.4 L297.0,74.4 L299.8,78.4" fill="none" stroke="#000" stroke-width="1.3" stroke-linejoin="round" stroke-linecap="round" />
<line x1="282.00" y1="127.50" x2="282.00" y2="212.50" stroke="#000" stroke-width="1.35" stroke-dasharray="1.3 3.4"/>
<path d="M279.0,210.6 L281.8,214.4 L284.6,210.6" fill="none" stroke="#000" stroke-width="1.3" stroke-linejoin="round" stroke-linecap="round" />
</g>
<rect x="223.3" y="9.8" width="67.3" height="27.1" fill="#fff" stroke="#e87878" stroke-width="1.1"/>
<text transform="translate(257.20 21.30)" font-size="9.4" text-anchor="middle" fill="#d01010" stroke="#d01010" stroke-width="0.1" ><tspan font-style="italic">V</tspan><tspan font-style="italic" font-size="6.5" dy="1.7">g</tspan><tspan dy="-1.7">-dependent</tspan></text>
<text transform="translate(256.70 32.90)" font-size="9.4" text-anchor="middle" fill="#d01010" stroke="#d01010" stroke-width="0.1" >mobility</text>
<rect x="259.6" y="99.6" width="47.0" height="27.0" fill="#fff" stroke="#808080" stroke-width="1.1"/>
<text transform="translate(283.00 111.40)" font-size="9.5" text-anchor="middle" fill="#111" stroke="#111" stroke-width="0.1" >Constant</text>
<text transform="translate(283.10 122.20)" font-size="9.5" text-anchor="middle" fill="#111" stroke="#111" stroke-width="0.1" >mobility</text>
<path d="M219.80,120.30 L226.90,113.80 L226.90,117.20 L235.80,117.20 L235.80,123.40 L226.90,123.40 L226.90,126.80 Z" fill="#fff" stroke="#e05a5a" stroke-width="1.0" stroke-linejoin="miter"/>
<path d="M340.10,190.40 L333.60,183.70 L333.60,186.55 L320.30,186.55 L320.30,194.25 L333.60,194.25 L333.60,197.10 Z" fill="#fff" stroke="#444" stroke-width="1.0" stroke-linejoin="miter"/>
<text transform="translate(305.90 216.30)" font-size="9.6" text-anchor="start" fill="#111" stroke="#111" stroke-width="0.1" >T=300 K</text>
<text transform="translate(291.60 229.30)" font-size="9.4" text-anchor="start" fill="#111" stroke="#111" stroke-width="0.1" ><tspan font-style="italic">V</tspan><tspan font-style="italic" font-size="7" dy="2.3">ds</tspan><tspan dy="-2.3"> = 10 mV</tspan></text>
<text transform="translate(334.00 18.00)" font-size="14.5" text-anchor="start" fill="#111" stroke="#111" stroke-width="0.1" >(b)</text>
<line x1="218.30" y1="3.60" x2="356.90" y2="3.60" stroke="#1a1a1a" stroke-width="1.0" />
<line x1="218.30" y1="3.10" x2="218.30" y2="240.70" stroke="#1a1a1a" stroke-width="1.1" />
<line x1="356.90" y1="3.10" x2="356.90" y2="240.70" stroke="#1a1a1a" stroke-width="1.1" />
<line x1="217.80" y1="240.20" x2="357.40" y2="240.20" stroke="#1a1a1a" stroke-width="1.1" />
<line x1="229.85" y1="240.20" x2="229.85" y2="237.20" stroke="#1a1a1a" stroke-width="1.0" />
<line x1="229.85" y1="3.60" x2="229.85" y2="6.60" stroke="#1a1a1a" stroke-width="1.0" />
<text transform="translate(228.25 251.70) scale(1 1.1)" font-size="9" text-anchor="middle" fill="#111" stroke="#111" stroke-width="0.1" >-60</text>
<line x1="252.95" y1="240.20" x2="252.95" y2="237.20" stroke="#1a1a1a" stroke-width="1.0" />
<line x1="252.95" y1="3.60" x2="252.95" y2="6.60" stroke="#1a1a1a" stroke-width="1.0" />
<text transform="translate(251.35 251.70) scale(1 1.1)" font-size="9" text-anchor="middle" fill="#111" stroke="#111" stroke-width="0.1" >-40</text>
<line x1="276.05" y1="240.20" x2="276.05" y2="237.20" stroke="#1a1a1a" stroke-width="1.0" />
<line x1="276.05" y1="3.60" x2="276.05" y2="6.60" stroke="#1a1a1a" stroke-width="1.0" />
<text transform="translate(274.45 251.70) scale(1 1.1)" font-size="9" text-anchor="middle" fill="#111" stroke="#111" stroke-width="0.1" >-20</text>
<line x1="299.15" y1="240.20" x2="299.15" y2="237.20" stroke="#1a1a1a" stroke-width="1.0" />
<line x1="299.15" y1="3.60" x2="299.15" y2="6.60" stroke="#1a1a1a" stroke-width="1.0" />
<text transform="translate(298.25 251.70) scale(1 1.1)" font-size="9" text-anchor="middle" fill="#111" stroke="#111" stroke-width="0.1" >0</text>
<line x1="322.25" y1="240.20" x2="322.25" y2="237.20" stroke="#1a1a1a" stroke-width="1.0" />
<line x1="322.25" y1="3.60" x2="322.25" y2="6.60" stroke="#1a1a1a" stroke-width="1.0" />
<text transform="translate(322.85 251.70) scale(1 1.1)" font-size="9" text-anchor="middle" fill="#111" stroke="#111" stroke-width="0.1" >20</text>
<line x1="345.35" y1="240.20" x2="345.35" y2="237.20" stroke="#1a1a1a" stroke-width="1.0" />
<line x1="345.35" y1="3.60" x2="345.35" y2="6.60" stroke="#1a1a1a" stroke-width="1.0" />
<text transform="translate(345.95 251.70) scale(1 1.1)" font-size="9" text-anchor="middle" fill="#111" stroke="#111" stroke-width="0.1" >40</text>
<line x1="241.40" y1="240.20" x2="241.40" y2="238.60" stroke="#1a1a1a" stroke-width="1.0" />
<line x1="241.40" y1="3.60" x2="241.40" y2="5.20" stroke="#1a1a1a" stroke-width="1.0" />
<line x1="264.50" y1="240.20" x2="264.50" y2="238.60" stroke="#1a1a1a" stroke-width="1.0" />
<line x1="264.50" y1="3.60" x2="264.50" y2="5.20" stroke="#1a1a1a" stroke-width="1.0" />
<line x1="287.60" y1="240.20" x2="287.60" y2="238.60" stroke="#1a1a1a" stroke-width="1.0" />
<line x1="287.60" y1="3.60" x2="287.60" y2="5.20" stroke="#1a1a1a" stroke-width="1.0" />
<line x1="310.70" y1="240.20" x2="310.70" y2="238.60" stroke="#1a1a1a" stroke-width="1.0" />
<line x1="310.70" y1="3.60" x2="310.70" y2="5.20" stroke="#1a1a1a" stroke-width="1.0" />
<line x1="333.80" y1="240.20" x2="333.80" y2="238.60" stroke="#1a1a1a" stroke-width="1.0" />
<line x1="333.80" y1="3.60" x2="333.80" y2="5.20" stroke="#1a1a1a" stroke-width="1.0" />
<line x1="218.30" y1="240.00" x2="221.30" y2="240.00" stroke="#1a1a1a" stroke-width="1.0" />
<text transform="translate(214.60 244.70) scale(1 1.1)" font-size="9" text-anchor="end" fill="#111" stroke="#111" stroke-width="0.1" >10<tspan font-size="6.3" dy="-2.7">-5</tspan></text>
<line x1="218.30" y1="228.14" x2="219.90" y2="228.14" stroke="#1a1a1a" stroke-width="0.9" />
<line x1="218.30" y1="221.20" x2="219.90" y2="221.20" stroke="#1a1a1a" stroke-width="0.9" />
<line x1="218.30" y1="216.28" x2="219.90" y2="216.28" stroke="#1a1a1a" stroke-width="0.9" />
<line x1="218.30" y1="212.46" x2="219.90" y2="212.46" stroke="#1a1a1a" stroke-width="0.9" />
<line x1="218.30" y1="209.34" x2="219.90" y2="209.34" stroke="#1a1a1a" stroke-width="0.9" />
<line x1="218.30" y1="206.70" x2="219.90" y2="206.70" stroke="#1a1a1a" stroke-width="0.9" />
<line x1="218.30" y1="204.42" x2="219.90" y2="204.42" stroke="#1a1a1a" stroke-width="0.9" />
<line x1="218.30" y1="202.40" x2="219.90" y2="202.40" stroke="#1a1a1a" stroke-width="0.9" />
<line x1="218.30" y1="200.60" x2="221.30" y2="200.60" stroke="#1a1a1a" stroke-width="1.0" />
<text transform="translate(214.60 205.30) scale(1 1.1)" font-size="9" text-anchor="end" fill="#111" stroke="#111" stroke-width="0.1" >10<tspan font-size="6.3" dy="-2.7">-4</tspan></text>
<line x1="218.30" y1="188.74" x2="219.90" y2="188.74" stroke="#1a1a1a" stroke-width="0.9" />
<line x1="218.30" y1="181.80" x2="219.90" y2="181.80" stroke="#1a1a1a" stroke-width="0.9" />
<line x1="218.30" y1="176.88" x2="219.90" y2="176.88" stroke="#1a1a1a" stroke-width="0.9" />
<line x1="218.30" y1="173.06" x2="219.90" y2="173.06" stroke="#1a1a1a" stroke-width="0.9" />
<line x1="218.30" y1="169.94" x2="219.90" y2="169.94" stroke="#1a1a1a" stroke-width="0.9" />
<line x1="218.30" y1="167.30" x2="219.90" y2="167.30" stroke="#1a1a1a" stroke-width="0.9" />
<line x1="218.30" y1="165.02" x2="219.90" y2="165.02" stroke="#1a1a1a" stroke-width="0.9" />
<line x1="218.30" y1="163.00" x2="219.90" y2="163.00" stroke="#1a1a1a" stroke-width="0.9" />
<line x1="218.30" y1="161.20" x2="221.30" y2="161.20" stroke="#1a1a1a" stroke-width="1.0" />
<text transform="translate(214.60 165.90) scale(1 1.1)" font-size="9" text-anchor="end" fill="#111" stroke="#111" stroke-width="0.1" >10<tspan font-size="6.3" dy="-2.7">-3</tspan></text>
<line x1="218.30" y1="149.34" x2="219.90" y2="149.34" stroke="#1a1a1a" stroke-width="0.9" />
<line x1="218.30" y1="142.40" x2="219.90" y2="142.40" stroke="#1a1a1a" stroke-width="0.9" />
<line x1="218.30" y1="137.48" x2="219.90" y2="137.48" stroke="#1a1a1a" stroke-width="0.9" />
<line x1="218.30" y1="133.66" x2="219.90" y2="133.66" stroke="#1a1a1a" stroke-width="0.9" />
<line x1="218.30" y1="130.54" x2="219.90" y2="130.54" stroke="#1a1a1a" stroke-width="0.9" />
<line x1="218.30" y1="127.90" x2="219.90" y2="127.90" stroke="#1a1a1a" stroke-width="0.9" />
<line x1="218.30" y1="125.62" x2="219.90" y2="125.62" stroke="#1a1a1a" stroke-width="0.9" />
<line x1="218.30" y1="123.60" x2="219.90" y2="123.60" stroke="#1a1a1a" stroke-width="0.9" />
<line x1="218.30" y1="121.80" x2="221.30" y2="121.80" stroke="#1a1a1a" stroke-width="1.0" />
<text transform="translate(214.60 126.50) scale(1 1.1)" font-size="9" text-anchor="end" fill="#111" stroke="#111" stroke-width="0.1" >10<tspan font-size="6.3" dy="-2.7">-2</tspan></text>
<line x1="218.30" y1="109.94" x2="219.90" y2="109.94" stroke="#1a1a1a" stroke-width="0.9" />
<line x1="218.30" y1="103.00" x2="219.90" y2="103.00" stroke="#1a1a1a" stroke-width="0.9" />
<line x1="218.30" y1="98.08" x2="219.90" y2="98.08" stroke="#1a1a1a" stroke-width="0.9" />
<line x1="218.30" y1="94.26" x2="219.90" y2="94.26" stroke="#1a1a1a" stroke-width="0.9" />
<line x1="218.30" y1="91.14" x2="219.90" y2="91.14" stroke="#1a1a1a" stroke-width="0.9" />
<line x1="218.30" y1="88.50" x2="219.90" y2="88.50" stroke="#1a1a1a" stroke-width="0.9" />
<line x1="218.30" y1="86.22" x2="219.90" y2="86.22" stroke="#1a1a1a" stroke-width="0.9" />
<line x1="218.30" y1="84.20" x2="219.90" y2="84.20" stroke="#1a1a1a" stroke-width="0.9" />
<line x1="218.30" y1="82.40" x2="221.30" y2="82.40" stroke="#1a1a1a" stroke-width="1.0" />
<text transform="translate(214.60 87.10) scale(1 1.1)" font-size="9" text-anchor="end" fill="#111" stroke="#111" stroke-width="0.1" >10<tspan font-size="6.3" dy="-2.7">-1</tspan></text>
<line x1="218.30" y1="70.54" x2="219.90" y2="70.54" stroke="#1a1a1a" stroke-width="0.9" />
<line x1="218.30" y1="63.60" x2="219.90" y2="63.60" stroke="#1a1a1a" stroke-width="0.9" />
<line x1="218.30" y1="58.68" x2="219.90" y2="58.68" stroke="#1a1a1a" stroke-width="0.9" />
<line x1="218.30" y1="54.86" x2="219.90" y2="54.86" stroke="#1a1a1a" stroke-width="0.9" />
<line x1="218.30" y1="51.74" x2="219.90" y2="51.74" stroke="#1a1a1a" stroke-width="0.9" />
<line x1="218.30" y1="49.10" x2="219.90" y2="49.10" stroke="#1a1a1a" stroke-width="0.9" />
<line x1="218.30" y1="46.82" x2="219.90" y2="46.82" stroke="#1a1a1a" stroke-width="0.9" />
<line x1="218.30" y1="44.80" x2="219.90" y2="44.80" stroke="#1a1a1a" stroke-width="0.9" />
<line x1="218.30" y1="43.00" x2="221.30" y2="43.00" stroke="#1a1a1a" stroke-width="1.0" />
<text transform="translate(214.60 47.70) scale(1 1.1)" font-size="9" text-anchor="end" fill="#111" stroke="#111" stroke-width="0.1" >10<tspan font-size="6.3" dy="-2.7">0</tspan></text>
<line x1="218.30" y1="31.14" x2="219.90" y2="31.14" stroke="#1a1a1a" stroke-width="0.9" />
<line x1="218.30" y1="24.20" x2="219.90" y2="24.20" stroke="#1a1a1a" stroke-width="0.9" />
<line x1="218.30" y1="19.28" x2="219.90" y2="19.28" stroke="#1a1a1a" stroke-width="0.9" />
<line x1="218.30" y1="15.46" x2="219.90" y2="15.46" stroke="#1a1a1a" stroke-width="0.9" />
<line x1="218.30" y1="12.34" x2="219.90" y2="12.34" stroke="#1a1a1a" stroke-width="0.9" />
<line x1="218.30" y1="9.70" x2="219.90" y2="9.70" stroke="#1a1a1a" stroke-width="0.9" />
<line x1="218.30" y1="7.42" x2="219.90" y2="7.42" stroke="#1a1a1a" stroke-width="0.9" />
<line x1="218.30" y1="5.40" x2="219.90" y2="5.40" stroke="#1a1a1a" stroke-width="0.9" />
<line x1="218.30" y1="3.60" x2="221.30" y2="3.60" stroke="#1a1a1a" stroke-width="1.0" />
<text transform="translate(214.60 8.30) scale(1 1.1)" font-size="9" text-anchor="end" fill="#111" stroke="#111" stroke-width="0.1" >10<tspan font-size="6.3" dy="-2.7">1</tspan></text>
<line x1="356.90" y1="218.30" x2="353.90" y2="218.30" stroke="#1a1a1a" stroke-width="1.0" />
<text transform="translate(360.60 221.30) scale(1 1.1)" font-size="9" text-anchor="start" fill="#111" stroke="#111" stroke-width="0.1" >0.0</text>
<line x1="356.90" y1="164.60" x2="353.90" y2="164.60" stroke="#1a1a1a" stroke-width="1.0" />
<text transform="translate(360.60 167.60) scale(1 1.1)" font-size="9" text-anchor="start" fill="#111" stroke="#111" stroke-width="0.1" >0.5</text>
<line x1="356.90" y1="110.90" x2="353.90" y2="110.90" stroke="#1a1a1a" stroke-width="1.0" />
<text transform="translate(360.60 113.90) scale(1 1.1)" font-size="9" text-anchor="start" fill="#111" stroke="#111" stroke-width="0.1" >1.0</text>
<line x1="356.90" y1="57.20" x2="353.90" y2="57.20" stroke="#1a1a1a" stroke-width="1.0" />
<text transform="translate(360.60 60.20) scale(1 1.1)" font-size="9" text-anchor="start" fill="#111" stroke="#111" stroke-width="0.1" >1.5</text>
<line x1="356.90" y1="3.50" x2="353.90" y2="3.50" stroke="#1a1a1a" stroke-width="1.0" />
<text transform="translate(360.60 7.50) scale(1 1.1)" font-size="9" text-anchor="start" fill="#111" stroke="#111" stroke-width="0.1" >2.0</text>
<line x1="356.90" y1="191.45" x2="355.30" y2="191.45" stroke="#1a1a1a" stroke-width="1.0" />
<line x1="356.90" y1="137.75" x2="355.30" y2="137.75" stroke="#1a1a1a" stroke-width="1.0" />
<line x1="356.90" y1="84.05" x2="355.30" y2="84.05" stroke="#1a1a1a" stroke-width="1.0" />
<line x1="356.90" y1="30.35" x2="355.30" y2="30.35" stroke="#1a1a1a" stroke-width="1.0" />
<text transform="translate(273.60 265.40)" font-size="10.5" text-anchor="start" fill="#111" stroke="#111" stroke-width="0.1" ><tspan font-style="italic">V</tspan><tspan font-style="italic" font-size="7.5" dy="2.4">gs</tspan><tspan dy="-2.4"> (V)</tspan></text>
<text transform="translate(192.00 141.20) rotate(-90)" font-size="10.5" text-anchor="start" fill="#111" stroke="#111" stroke-width="0.1" ><tspan font-style="italic">I</tspan><tspan font-style="italic" font-size="7.5" dy="2.4">ds</tspan><tspan dy="-2.4"> (μA)</tspan></text>
<line x1="432.60" y1="7.40" x2="556.90" y2="7.40" stroke="#e06a6a" stroke-width="1.2" />
<line x1="432.60" y1="78.50" x2="556.90" y2="78.50" stroke="#e06a6a" stroke-width="1.2" />
<line x1="432.60" y1="43.00" x2="556.90" y2="43.00" stroke="#f08a8a" stroke-width="1.0" stroke-dasharray="1.3 2.6"/>
<path d="M432.6,73.5 C445,73.1 455,72.4 460,71.4 Q464,70.5 466.2,66.8 L492.4,17.6 Q494.2,14.8 498,14.1 C505,13.1 515,12.3 525,11.9 C535,11.6 546,11.3 556.9,11.2" fill="none" stroke="#2020f0" stroke-width="1.5" stroke-linejoin="round" stroke-linecap="round" />
<line x1="494.60" y1="3.60" x2="494.60" y2="240.20" stroke="#444" stroke-width="0.9" stroke-dasharray="1 2.6"/>
<path d="M512.76,35.87 L512.75,35.72 L512.73,35.58 L512.72,35.43 L512.70,35.29 L512.67,35.15 L512.65,35.01 L512.63,34.87 L512.60,34.73 L512.57,34.60 L512.54,34.47 L512.51,34.33 L512.48,34.20 L512.44,34.08 L512.40,33.95 L512.37,33.82 L512.33,33.70 L512.28,33.58 L512.24,33.46 L512.20,33.34 L512.15,33.22 L512.10,33.10 L512.05,32.99 L512.00,32.87 L511.95,32.76 L511.90,32.65 L511.84,32.54 L511.79,32.43 L511.73,32.32 L511.67,32.22 L511.61,32.11 L511.55,32.01 L511.48,31.91 L511.42,31.81 L511.35,31.71 L511.29,31.61 L511.22,31.51 L511.15,31.42 L511.08,31.32 L511.01,31.23 L510.93,31.13 L510.86,31.04 L510.78,30.95 L510.71,30.86 L510.63,30.77 L510.55,30.68 L510.47,30.60 L510.39,30.51 L510.31,30.43 L510.23,30.34 L510.14,30.26 L510.06,30.18 L509.97,30.10 L509.89,30.01 L509.80,29.93 L509.71,29.86 L509.62,29.78 L509.53,29.70 L509.44,29.62 L509.35,29.55 L509.26,29.47 L509.17,29.40 L509.07,29.33 L508.98,29.25 L508.88,29.18 L508.79,29.11 L508.69,29.04 L508.59,28.97 L508.49,28.90 L508.40,28.83 L508.30,28.76 L508.20,28.69 L508.10,28.62 L507.99,28.56 L507.89,28.49 L507.79,28.43 L507.69,28.36 L507.59,28.29 L507.48,28.23 L507.38,28.17 L507.27,28.10 L507.17,28.04 L507.06,27.98 L506.96,27.91 L506.85,27.85 L506.75,27.79 L506.64,27.73 L506.53,27.66 L506.42,27.60 L506.32,27.54 L506.21,27.48 L506.10,27.42 L505.99,27.36 L505.89,27.30 L505.78,27.24 L505.67,27.18 L505.56,27.12 L505.45,27.06 L505.34,27.00 L505.23,26.94 L505.12,26.88 L505.01,26.82 L504.90,26.76 L504.80,26.70 L504.69,26.64 L504.58,26.58 L504.47,26.52 L504.36,26.46 L504.25,26.40 L504.14,26.34 L504.03,26.28 L503.92,26.22 L503.81,26.16 L503.71,26.10 L503.60,26.04 L503.49,25.98 L503.38,25.92 L503.27,25.86 L503.17,25.80 L503.06,25.73 L502.95,25.67 L502.85,25.61 L502.74,25.55 L502.64,25.48 L502.53,25.42 L502.43,25.36 L502.32,25.29 L502.22,25.23 L502.11,25.16 L502.01,25.10 L501.91,25.03 L501.81,24.96 L501.70,24.90 L501.60,24.83 L501.50,24.76 L501.40,24.69 L501.30,24.62 L501.20,24.55 L501.11,24.48 L501.01,24.41 L500.91,24.34 L500.82,24.27 L500.72,24.19 L500.63,24.12 L500.53,24.04 L500.44,23.97 L500.35,23.89 L500.25,23.82 L500.16,23.74 L500.07,23.66 L499.98,23.58 L499.90,23.50 L499.81,23.42 L499.72,23.34 L499.64,23.26 L499.55,23.17 L499.47,23.09 L499.39,23.00 L499.30,22.92 L499.22,22.83 L499.14,22.74 L499.07,22.65 L498.99,22.56 L498.91,22.47 L498.84,22.38 L498.76,22.28 L498.69,22.19 L498.62,22.09 L498.55,22.00 L498.48,21.90 L498.41,21.80 L498.34,21.70 L498.28,21.60 L498.21,21.50 L498.15,21.39 L498.09,21.29 L498.03,21.18 L497.97,21.07 L497.91,20.96 L497.85,20.85 L497.80,20.74 L497.74,20.63 L497.69,20.52 L497.64,20.40 L497.59,20.28 L497.54,20.16 L497.50,20.04 L497.45,19.92 L497.41,19.80 L497.37,19.68 L497.33,19.55 L497.29,19.42 L497.25,19.29 L497.22,19.16 L497.18,19.03 L497.15,18.90 L497.12,18.76 L497.09,18.63 L497.06,18.49 L497.04,18.35" fill="none" stroke="#2020f0" stroke-width="1.5" stroke-linejoin="round" stroke-linecap="round" />
<path d="M496.3,16.6 L494.6,21.2 L497.2,20.0 L499.6,21.6 Z" fill="#2020f0" stroke="#2020f0" stroke-width="1.0" stroke-linejoin="round"/>
<text transform="translate(505.20 46.00) scale(1 1.08)" font-size="9.5" text-anchor="start" fill="#2323f0" stroke="#2323f0" stroke-width="0.1" >C<tspan font-size="7" dy="2.4">q</tspan></text>
<text transform="translate(525.60 46.00) scale(1 1.08)" font-size="9.5" text-anchor="start" fill="#2323f0" stroke="#2323f0" stroke-width="0.1" >C<tspan font-size="7" dy="2.4">ox</tspan></text>
<path d="M517.6,41.6 Q519.0,40.2 520.5,41.3 Q522.0,42.4 523.4,41.0" fill="none" stroke="#2323f0" stroke-width="1.05" stroke-linejoin="round" stroke-linecap="round" />
<path d="M517.6,44.3 Q519.0,42.9 520.5,44.0 Q522.0,45.1 523.4,43.7" fill="none" stroke="#2323f0" stroke-width="1.05" stroke-linejoin="round" stroke-linecap="round" />
<text transform="translate(496.60 57.80)" font-size="9.5" text-anchor="start" fill="#2323f0" stroke="#2323f0" stroke-width="0.1" >E<tspan font-size="7" dy="2.4">f</tspan><tspan dy="-2.4"> ~ 0.66 eV</tspan></text>
<text transform="translate(476.40 72.50)" font-size="9.4" text-anchor="start" fill="#111" stroke="#111" stroke-width="0.1" >N<tspan font-size="7" dy="2.4">d</tspan><tspan dy="-2.4"> = 4 x 10</tspan><tspan font-size="6.3" dy="-3.8">12</tspan><tspan dy="3.8"> cm</tspan><tspan font-size="6.3" dy="-3.8">-2</tspan></text>
<text transform="translate(436.60 21.40)" font-size="14.5" text-anchor="start" fill="#111" stroke="#111" stroke-width="0.1" >(c)</text>
<text transform="translate(560.80 10.60)" font-size="9.6" text-anchor="start" fill="#111" stroke="#111" stroke-width="0.1" >E<tspan font-size="7" dy="2.2">c</tspan></text>
<text transform="translate(560.80 45.70)" font-size="9.6" text-anchor="start" fill="#111" stroke="#111" stroke-width="0.1" >Midgap</text>
<text transform="translate(560.80 81.60)" font-size="9.6" text-anchor="start" fill="#111" stroke="#111" stroke-width="0.1" >E<tspan font-size="7" dy="2.2">v</tspan></text>
<line x1="432.60" y1="7.54" x2="435.60" y2="7.54" stroke="#1a1a1a" stroke-width="1.0" />
<line x1="556.90" y1="7.54" x2="553.90" y2="7.54" stroke="#1a1a1a" stroke-width="1.0" />
<text transform="translate(428.60 11.04) scale(1 1.1)" font-size="9" text-anchor="end" fill="#111" stroke="#111" stroke-width="0.1" >0.9</text>
<line x1="432.60" y1="43.00" x2="435.60" y2="43.00" stroke="#1a1a1a" stroke-width="1.0" />
<line x1="556.90" y1="43.00" x2="553.90" y2="43.00" stroke="#1a1a1a" stroke-width="1.0" />
<text transform="translate(428.60 46.90) scale(1 1.1)" font-size="9" text-anchor="end" fill="#111" stroke="#111" stroke-width="0.1" >0.0</text>
<line x1="432.60" y1="78.46" x2="435.60" y2="78.46" stroke="#1a1a1a" stroke-width="1.0" />
<line x1="556.90" y1="78.46" x2="553.90" y2="78.46" stroke="#1a1a1a" stroke-width="1.0" />
<text transform="translate(428.60 80.96) scale(1 1.1)" font-size="9" text-anchor="end" fill="#111" stroke="#111" stroke-width="0.1" >-0.9</text>
<line x1="432.60" y1="72.55" x2="434.20" y2="72.55" stroke="#1a1a1a" stroke-width="0.9" />
<line x1="556.90" y1="72.55" x2="555.30" y2="72.55" stroke="#1a1a1a" stroke-width="0.9" />
<line x1="432.60" y1="66.64" x2="434.20" y2="66.64" stroke="#1a1a1a" stroke-width="0.9" />
<line x1="556.90" y1="66.64" x2="555.30" y2="66.64" stroke="#1a1a1a" stroke-width="0.9" />
<line x1="432.60" y1="60.73" x2="434.20" y2="60.73" stroke="#1a1a1a" stroke-width="0.9" />
<line x1="556.90" y1="60.73" x2="555.30" y2="60.73" stroke="#1a1a1a" stroke-width="0.9" />
<line x1="432.60" y1="54.82" x2="434.20" y2="54.82" stroke="#1a1a1a" stroke-width="0.9" />
<line x1="556.90" y1="54.82" x2="555.30" y2="54.82" stroke="#1a1a1a" stroke-width="0.9" />
<line x1="432.60" y1="48.91" x2="434.20" y2="48.91" stroke="#1a1a1a" stroke-width="0.9" />
<line x1="556.90" y1="48.91" x2="555.30" y2="48.91" stroke="#1a1a1a" stroke-width="0.9" />
<line x1="432.60" y1="37.09" x2="434.20" y2="37.09" stroke="#1a1a1a" stroke-width="0.9" />
<line x1="556.90" y1="37.09" x2="555.30" y2="37.09" stroke="#1a1a1a" stroke-width="0.9" />
<line x1="432.60" y1="31.18" x2="434.20" y2="31.18" stroke="#1a1a1a" stroke-width="0.9" />
<line x1="556.90" y1="31.18" x2="555.30" y2="31.18" stroke="#1a1a1a" stroke-width="0.9" />
<line x1="432.60" y1="25.27" x2="434.20" y2="25.27" stroke="#1a1a1a" stroke-width="0.9" />
<line x1="556.90" y1="25.27" x2="555.30" y2="25.27" stroke="#1a1a1a" stroke-width="0.9" />
<line x1="432.60" y1="19.36" x2="434.20" y2="19.36" stroke="#1a1a1a" stroke-width="0.9" />
<line x1="556.90" y1="19.36" x2="555.30" y2="19.36" stroke="#1a1a1a" stroke-width="0.9" />
<line x1="432.60" y1="13.45" x2="434.20" y2="13.45" stroke="#1a1a1a" stroke-width="0.9" />
<line x1="556.90" y1="13.45" x2="555.30" y2="13.45" stroke="#1a1a1a" stroke-width="0.9" />
<text transform="translate(401.80 79.40) rotate(-90)" font-size="10.7" text-anchor="start" fill="#111" stroke="#111" stroke-width="0.1" >Fermi Level (eV)</text>
<clipPath id="cd"><rect x="432.6" y="82.4" width="124.29999999999995" height="79.69999999999999"/></clipPath>
<clipPath id="ce"><rect x="432.6" y="162.1" width="124.29999999999995" height="78.30000000000001"/></clipPath>
<path d="M432.6,148.8 L490.0,148.8 Q493.0,148.7 495.5,146.8 L557.5,92.6" fill="none" stroke="#000" stroke-width="1.4" stroke-linejoin="round" stroke-linecap="round" />
<path d="M477.63,163.02 L477.68,162.69 L477.74,162.36 L477.79,162.03 L477.84,161.70 L477.90,161.37 L477.96,161.04 L478.01,160.72 L478.07,160.39 L478.13,160.06 L478.19,159.73 L478.25,159.41 L478.32,159.08 L478.38,158.76 L478.44,158.43 L478.51,158.11 L478.57,157.78 L478.64,157.46 L478.71,157.13 L478.78,156.81 L478.84,156.48 L478.91,156.16 L478.98,155.84 L479.06,155.51 L479.13,155.19 L479.20,154.87 L479.27,154.55 L479.35,154.23 L479.42,153.90 L479.50,153.58 L479.58,153.26 L479.65,152.94 L479.73,152.62 L479.81,152.30 L479.89,151.98 L479.96,151.66 L480.04,151.34 L480.12,151.02 L480.21,150.70 L480.29,150.38 L480.37,150.06 L480.45,149.74 L480.53,149.42 L480.62,149.10 L480.70,148.78 L480.78,148.46 L480.87,148.15 L480.95,147.83 L481.04,147.51 L481.12,147.19 L481.21,146.87 L481.29,146.55 L481.38,146.24 L481.47,145.92 L481.55,145.60 L481.64,145.28 L481.73,144.97 L481.82,144.65 L481.90,144.33 L481.99,144.01 L482.08,143.70 L482.17,143.38 L482.26,143.06 L482.34,142.74 L482.43,142.43 L482.52,142.11 L482.61,141.79 L482.70,141.48 L482.79,141.16 L482.88,140.84 L482.97,140.53 L483.05,140.21 L483.14,139.89 L483.23,139.57 L483.32,139.26 L483.41,138.94 L483.50,138.62 L483.59,138.31 L483.67,137.99 L483.76,137.67 L483.85,137.35 L483.94,137.04 L484.03,136.72 L484.11,136.40 L484.20,136.08 L484.29,135.77 L484.37,135.45 L484.46,135.13 L484.55,134.81 L484.63,134.50 L484.72,134.18 L484.80,133.86 L484.89,133.54 L484.97,133.22 L485.06,132.90 L485.14,132.58 L485.23,132.27 L485.31,131.95 L485.39,131.63 L485.47,131.31 L485.56,130.99 L485.64,130.67 L485.72,130.35 L485.80,130.03 L485.88,129.71 L485.96,129.39 L486.04,129.07 L486.11,128.75 L486.19,128.43 L486.27,128.11 L486.34,127.78 L486.42,127.46 L486.50,127.14 L486.57,126.82 L486.64,126.50 L486.72,126.17 L486.79,125.85 L486.86,125.53 L486.93,125.21 L487.00,124.88 L487.07,124.56 L487.14,124.23 L487.21,123.91 L487.27,123.58 L487.34,123.26 L487.40,122.93 L487.47,122.61 L487.53,122.28 L487.59,121.96 L487.65,121.63 L487.72,121.30 L487.77,120.98 L487.83,120.65 L487.89,120.32 L487.95,119.99 L488.01,119.67 L488.06,119.34 L488.12,119.01 L488.18,118.68 L488.23,118.35 L488.29,118.02 L488.34,117.70 L488.40,117.37 L488.45,117.04 L488.51,116.71 L488.56,116.38 L488.62,116.05 L488.67,115.72 L488.73,115.39 L488.78,115.06 L488.84,114.74 L488.89,114.41 L488.95,114.08 L489.01,113.75 L489.06,113.42 L489.12,113.09 L489.18,112.77 L489.24,112.44 L489.30,112.11 L489.36,111.79 L489.42,111.46 L489.49,111.13 L489.55,110.81 L489.61,110.48 L489.68,110.15 L489.75,109.83 L489.82,109.50 L489.89,109.18 L489.96,108.86 L490.03,108.53 L490.10,108.21 L490.18,107.89 L490.25,107.57 L490.33,107.24 L490.41,106.92 L490.49,106.60 L490.58,106.28 L490.66,105.96 L490.75,105.65 L490.84,105.33 L490.93,105.01 L491.02,104.69 L491.12,104.38 L491.22,104.06 L491.32,103.75 L491.42,103.44 L491.52,103.12 L491.63,102.81 L491.74,102.50 L491.85,102.19 L491.97,101.88 L492.09,101.58 L492.21,101.27 L492.34,100.97 L492.47,100.68 L492.61,100.38 L492.76,100.09 L492.91,99.81 L493.06,99.53 L493.22,99.26 L493.40,98.99 L493.57,98.73 L493.76,98.48 L493.95,98.23 L494.16,97.99 L494.37,97.76 L494.59,97.54 L494.82,97.33 L495.06,97.12 L495.30,96.92 L495.55,96.73 L495.81,96.54 L496.08,96.36 L496.35,96.19 L496.62,96.02 L496.90,95.86 L497.19,95.71 L497.48,95.56 L497.77,95.41 L498.06,95.27 L498.36,95.14 L498.66,95.01 L498.97,94.88 L499.27,94.76 L499.58,94.64 L499.89,94.52 L500.20,94.41 L500.51,94.30 L500.82,94.20 L501.14,94.10 L501.46,94.00 L501.78,93.91 L502.10,93.82 L502.42,93.73 L502.74,93.64 L503.07,93.56 L503.39,93.48 L503.72,93.40 L504.05,93.32 L504.38,93.25 L504.70,93.17 L505.03,93.10 L505.36,93.03 L505.69,92.97 L506.03,92.90 L506.36,92.84 L506.69,92.77 L507.02,92.71 L507.35,92.65 L507.68,92.59 L508.01,92.53 L508.35,92.47 L508.68,92.41 L509.01,92.35 L509.34,92.29 L509.67,92.23 L510.00,92.17 L510.33,92.12 L510.66,92.06 L510.99,92.01 L511.32,91.95 L511.65,91.90 L511.98,91.84 L512.31,91.79 L512.64,91.74 L512.97,91.69 L513.30,91.63 L513.62,91.58 L513.95,91.53 L514.28,91.48 L514.61,91.43 L514.94,91.38 L515.27,91.34 L515.60,91.29 L515.92,91.24 L516.25,91.19 L516.58,91.15 L516.91,91.10 L517.24,91.06 L517.56,91.01 L517.89,90.97 L518.22,90.92 L518.55,90.88 L518.87,90.84 L519.20,90.79 L519.53,90.75 L519.86,90.71 L520.18,90.67 L520.51,90.63 L520.84,90.59 L521.16,90.55 L521.49,90.51 L521.82,90.47 L522.14,90.43 L522.47,90.40 L522.80,90.36 L523.12,90.32 L523.45,90.28 L523.78,90.25 L524.10,90.21 L524.43,90.18 L524.76,90.14 L525.08,90.11 L525.41,90.07 L525.74,90.04 L526.06,90.01 L526.39,89.98 L526.72,89.94 L527.04,89.91 L527.37,89.88 L527.69,89.85 L528.02,89.82 L528.35,89.79 L528.67,89.76 L529.00,89.73 L529.33,89.70 L529.65,89.67 L529.98,89.64 L530.30,89.61 L530.63,89.59 L530.96,89.56 L531.28,89.53 L531.61,89.51 L531.94,89.48 L532.26,89.46 L532.59,89.43 L532.92,89.40 L533.24,89.38 L533.57,89.36 L533.90,89.33 L534.22,89.31 L534.55,89.28 L534.88,89.26 L535.20,89.24 L535.53,89.22 L535.86,89.19 L536.18,89.17 L536.51,89.15 L536.84,89.13 L537.16,89.11 L537.49,89.09 L537.82,89.07 L538.15,89.05 L538.47,89.03 L538.80,89.01 L539.13,88.99 L539.46,88.97 L539.78,88.95 L540.11,88.94 L540.44,88.92 L540.77,88.90 L541.10,88.88 L541.42,88.87 L541.75,88.85 L542.08,88.83 L542.41,88.82 L542.74,88.80 L543.07,88.78 L543.40,88.77 L543.73,88.75 L544.05,88.74 L544.38,88.72 L544.71,88.71 L545.04,88.70 L545.37,88.68 L545.70,88.67 L546.03,88.65 L546.36,88.64 L546.69,88.63 L547.02,88.61 L547.35,88.60 L547.68,88.59 L548.01,88.58 L548.35,88.57 L548.68,88.55 L549.01,88.54 L549.34,88.53 L549.67,88.52 L550.00,88.51 L550.33,88.50 L550.67,88.49 L551.00,88.48 L551.33,88.47 L551.66,88.45 L552.00,88.44 L552.33,88.43 L552.66,88.43 L553.00,88.42 L553.33,88.41 L553.66,88.40 L554.00,88.39 L554.33,88.38 L554.67,88.37 L555.00,88.36 L555.34,88.35 L555.67,88.34 L556.01,88.34 L556.34,88.33 L556.68,88.32 L557.01,88.31" fill="none" stroke="#d82020" stroke-width="1.3" stroke-linejoin="round" stroke-linecap="round" clip-path="url(#cd)"/>
<text transform="translate(438.00 96.00)" font-size="9.5" text-anchor="start" fill="#111" stroke="#111" stroke-width="0.1" >Constant</text>
<text transform="translate(438.00 108.10)" font-size="9.5" text-anchor="start" fill="#111" stroke="#111" stroke-width="0.1" >Mobility</text>
<text transform="translate(438.00 120.40)" font-size="9.5" text-anchor="start" fill="#111" stroke="#111" stroke-width="0.1" >50 cm<tspan font-size="6.3" dy="-3.6">2</tspan><tspan dy="3.6">/Vs</tspan></text>
<text transform="translate(498.60 105.70)" font-size="9.6" text-anchor="start" fill="#d82020" stroke="#d82020" stroke-width="0.1" >V<tspan font-size="7" dy="2.4">th</tspan><tspan dy="-2.4">~-55 V</tspan></text>
<path d="M518.44,109.58 L518.45,109.74 L518.46,109.91 L518.46,110.07 L518.46,110.24 L518.46,110.40 L518.46,110.56 L518.45,110.72 L518.45,110.87 L518.44,111.03 L518.43,111.19 L518.41,111.34 L518.40,111.49 L518.38,111.64 L518.36,111.79 L518.34,111.94 L518.32,112.09 L518.29,112.24 L518.27,112.38 L518.24,112.53 L518.21,112.67 L518.17,112.81 L518.14,112.95 L518.10,113.09 L518.07,113.23 L518.03,113.36 L517.99,113.50 L517.94,113.63 L517.90,113.76 L517.85,113.90 L517.80,114.03 L517.75,114.16 L517.70,114.29 L517.65,114.41 L517.60,114.54 L517.54,114.66 L517.48,114.79 L517.42,114.91 L517.36,115.03 L517.30,115.15 L517.23,115.27 L517.17,115.39 L517.10,115.51 L517.03,115.62 L516.96,115.74 L516.89,115.85 L516.82,115.96 L516.74,116.07 L516.66,116.18 L516.59,116.29 L516.51,116.40 L516.43,116.51 L516.34,116.62 L516.26,116.72 L516.18,116.82 L516.09,116.93 L516.00,117.03 L515.92,117.13 L515.83,117.23 L515.73,117.33 L515.64,117.43 L515.55,117.52 L515.45,117.62 L515.36,117.71 L515.26,117.81 L515.16,117.90 L515.06,117.99 L514.96,118.08 L514.86,118.17 L514.76,118.26 L514.65,118.35 L514.55,118.44 L514.44,118.52 L514.33,118.61 L514.22,118.69 L514.11,118.78 L514.00,118.86 L513.89,118.94 L513.78,119.02 L513.67,119.10 L513.55,119.18 L513.43,119.25 L513.32,119.33 L513.20,119.41 L513.08,119.48 L512.96,119.56 L512.84,119.63 L512.72,119.70 L512.60,119.77 L512.48,119.84 L512.35,119.91 L512.23,119.98 L512.11,120.05 L511.98,120.12 L511.85,120.18 L511.73,120.25 L511.60,120.31 L511.47,120.37 L511.34,120.44 L511.21,120.50 L511.08,120.56 L510.95,120.62 L510.81,120.68 L510.68,120.74 L510.55,120.80 L510.41,120.85 L510.28,120.91 L510.14,120.97 L510.01,121.02 L509.87,121.07 L509.74,121.13 L509.60,121.18 L509.46,121.23 L509.32,121.28 L509.18,121.33 L509.04,121.38 L508.90,121.43 L508.76,121.48 L508.62,121.52 L508.48,121.57 L508.34,121.62 L508.20,121.66 L508.06,121.71 L507.92,121.75 L507.77,121.79 L507.63,121.83 L507.49,121.88 L507.34,121.92 L507.20,121.96 L507.06,122.00 L506.91,122.04 L506.77,122.07 L506.62,122.11 L506.48,122.15 L506.33,122.18 L506.19,122.22 L506.04,122.25 L505.90,122.29 L505.75,122.32 L505.61,122.36 L505.46,122.39 L505.31,122.42 L505.17,122.45 L505.02,122.48 L504.88,122.51 L504.73,122.54 L504.58,122.57 L504.44,122.60 L504.29,122.62 L504.15,122.65 L504.00,122.68 L503.86,122.70 L503.71,122.73 L503.56,122.75 L503.42,122.78 L503.27,122.80 L503.13,122.82 L502.98,122.85 L502.84,122.87 L502.69,122.89 L502.55,122.91 L502.41,122.93 L502.26,122.95 L502.12,122.97 L501.98,122.99 L501.83,123.01 L501.69,123.03 L501.55,123.04 L501.41,123.06 L501.26,123.08 L501.12,123.09 L500.98,123.11 L500.84,123.12 L500.70,123.14 L500.56,123.15 L500.42,123.17 L500.28,123.18 L500.14,123.19 L500.01,123.21 L499.87,123.22 L499.73,123.23 L499.60,123.24 L499.46,123.25 L499.32,123.26 L499.19,123.27 L499.06,123.28 L498.92,123.29 L498.79,123.30 L498.66,123.31 L498.52,123.32 L498.39,123.32 L498.26,123.33 L498.13,123.34 L498.00,123.35 L497.88,123.35 L497.75,123.36 L497.62,123.36 L497.50,123.37 L497.37,123.37 L497.25,123.38" fill="none" stroke="#d82020" stroke-width="1.5" stroke-linejoin="round" stroke-linecap="round" />
<path d="M500.4,120.2 L496.0,123.4 L500.8,126.0" fill="none" stroke="#d82020" stroke-width="1.5" stroke-linejoin="round" stroke-linecap="round" />
<path d="M459.00,136.70 L465.20,131.10 L465.20,133.35 L476.80,133.35 L476.80,140.05 L465.20,140.05 L465.20,142.30 Z" fill="#fff" stroke="#e05a5a" stroke-width="1.0" stroke-linejoin="miter"/>
<path d="M552.80,116.60 L546.30,110.10 L546.30,113.35 L535.60,113.35 L535.60,119.85 L546.30,119.85 L546.30,123.10 Z" fill="#fff" stroke="#444" stroke-width="1.0" stroke-linejoin="miter"/>
<text transform="translate(539.60 156.30)" font-size="11.5" text-anchor="start" fill="#111" stroke="#111" stroke-width="0.1" >(d)</text>
<path d="M432.6,228.0 L491.0,228.0 Q494.5,228.0 497.8,224.8 L497.79,224.81 L498.14,224.64 L498.48,224.46 L498.82,224.29 L499.17,224.11 L499.51,223.94 L499.85,223.76 L500.19,223.58 L500.53,223.40 L500.87,223.22 L501.21,223.04 L501.55,222.86 L501.88,222.67 L502.22,222.49 L502.56,222.30 L502.89,222.12 L503.23,221.93 L503.56,221.74 L503.90,221.56 L504.23,221.37 L504.57,221.18 L504.90,220.99 L505.23,220.79 L505.56,220.60 L505.89,220.41 L506.22,220.21 L506.55,220.02 L506.88,219.82 L507.21,219.63 L507.54,219.43 L507.87,219.23 L508.19,219.03 L508.52,218.83 L508.84,218.63 L509.17,218.43 L509.49,218.22 L509.82,218.02 L510.14,217.82 L510.47,217.61 L510.79,217.41 L511.11,217.20 L511.43,216.99 L511.75,216.78 L512.07,216.57 L512.39,216.36 L512.71,216.15 L513.03,215.94 L513.35,215.73 L513.67,215.52 L513.99,215.30 L514.30,215.09 L514.62,214.87 L514.93,214.66 L515.25,214.44 L515.56,214.23 L515.88,214.01 L516.19,213.79 L516.51,213.57 L516.82,213.35 L517.13,213.13 L517.44,212.91 L517.75,212.69 L518.06,212.46 L518.37,212.24 L518.68,212.01 L518.99,211.79 L519.30,211.56 L519.61,211.34 L519.92,211.11 L520.23,210.88 L520.53,210.65 L520.84,210.43 L521.15,210.20 L521.45,209.97 L521.76,209.74 L522.06,209.50 L522.37,209.27 L522.67,209.04 L522.97,208.81 L523.27,208.57 L523.58,208.34 L523.88,208.10 L524.18,207.87 L524.48,207.63 L524.78,207.39 L525.08,207.16 L525.38,206.92 L525.68,206.68 L525.98,206.44 L526.28,206.20 L526.58,205.96 L526.87,205.72 L527.17,205.48 L527.47,205.23 L527.76,204.99 L528.06,204.75 L528.35,204.50 L528.65,204.26 L528.94,204.01 L529.24,203.77 L529.53,203.52 L529.82,203.28 L530.12,203.03 L530.41,202.78 L530.70,202.53 L530.99,202.29 L531.28,202.04 L531.57,201.79 L531.86,201.54 L532.15,201.29 L532.44,201.04 L532.73,200.78 L533.02,200.53 L533.31,200.28 L533.60,200.03 L533.89,199.77 L534.17,199.52 L534.46,199.27 L534.75,199.01 L535.03,198.76 L535.32,198.50 L535.60,198.24 L535.89,197.99 L536.17,197.73 L536.46,197.47 L536.74,197.22 L537.02,196.96 L537.31,196.70 L537.59,196.44 L537.87,196.18 L538.15,195.92 L538.44,195.66 L538.72,195.40 L539.00,195.14 L539.28,194.88 L539.56,194.62 L539.84,194.35 L540.12,194.09 L540.40,193.83 L540.68,193.56 L540.95,193.30 L541.23,193.04 L541.51,192.77 L541.79,192.51 L542.06,192.24 L542.34,191.98 L542.62,191.71 L542.89,191.45 L543.17,191.18 L543.45,190.91 L543.72,190.65 L544.00,190.38 L544.27,190.11 L544.54,189.84 L544.82,189.58 L545.09,189.31 L545.37,189.04 L545.64,188.77 L545.91,188.50 L546.18,188.23 L546.46,187.96 L546.73,187.69 L547.00,187.42 L547.27,187.15 L547.54,186.88 L547.81,186.61 L548.08,186.34 L548.35,186.06 L548.62,185.79 L548.89,185.52 L549.16,185.25 L549.43,184.98 L549.70,184.70 L549.97,184.43 L550.24,184.16 L550.50,183.88 L550.77,183.61 L551.04,183.34 L551.31,183.06 L551.57,182.79 L551.84,182.51 L552.11,182.24 L552.37,181.96 L552.64,181.69 L552.90,181.41 L553.17,181.14 L553.43,180.86 L553.70,180.59 L553.96,180.31 L554.23,180.04 L554.49,179.76 L554.76,179.49 L555.02,179.21 L555.28,178.93 L555.55,178.66 L555.81,178.38 L556.07,178.10 L556.33,177.83 L556.60,177.55 L556.86,177.27" fill="none" stroke="#000" stroke-width="1.4" stroke-linejoin="round" stroke-linecap="round" />
<path d="M479.59,241.03 L479.66,240.71 L479.73,240.40 L479.80,240.09 L479.87,239.78 L479.94,239.47 L480.01,239.16 L480.08,238.85 L480.16,238.54 L480.23,238.24 L480.30,237.93 L480.37,237.62 L480.44,237.31 L480.51,237.01 L480.58,236.70 L480.66,236.39 L480.73,236.09 L480.80,235.78 L480.87,235.48 L480.95,235.17 L481.02,234.87 L481.09,234.56 L481.17,234.26 L481.24,233.96 L481.31,233.65 L481.39,233.35 L481.46,233.05 L481.53,232.74 L481.61,232.44 L481.68,232.14 L481.75,231.84 L481.83,231.54 L481.90,231.24 L481.98,230.93 L482.05,230.63 L482.12,230.33 L482.20,230.03 L482.27,229.73 L482.35,229.43 L482.42,229.13 L482.50,228.83 L482.57,228.53 L482.64,228.23 L482.72,227.93 L482.79,227.64 L482.87,227.34 L482.94,227.04 L483.02,226.74 L483.09,226.44 L483.17,226.14 L483.24,225.84 L483.32,225.55 L483.39,225.25 L483.46,224.95 L483.54,224.65 L483.61,224.35 L483.69,224.06 L483.76,223.76 L483.84,223.46 L483.91,223.16 L483.99,222.87 L484.06,222.57 L484.14,222.27 L484.21,221.97 L484.28,221.68 L484.36,221.38 L484.43,221.08 L484.51,220.78 L484.58,220.48 L484.66,220.19 L484.73,219.89 L484.80,219.59 L484.88,219.29 L484.95,219.00 L485.02,218.70 L485.10,218.40 L485.17,218.10 L485.24,217.80 L485.32,217.50 L485.39,217.21 L485.46,216.91 L485.54,216.61 L485.61,216.31 L485.68,216.01 L485.75,215.71 L485.83,215.41 L485.90,215.11 L485.97,214.81 L486.04,214.51 L486.11,214.21 L486.19,213.91 L486.26,213.61 L486.33,213.31 L486.40,213.01 L486.47,212.71 L486.54,212.41 L486.61,212.11 L486.68,211.81 L486.75,211.51 L486.82,211.20 L486.89,210.90 L486.96,210.60 L487.03,210.30 L487.10,209.99 L487.17,209.69 L487.24,209.39 L487.31,209.08 L487.38,208.78 L487.44,208.47 L487.51,208.17 L487.58,207.86 L487.65,207.56 L487.72,207.25 L487.78,206.95 L487.85,206.64 L487.92,206.33 L487.98,206.02 L488.05,205.72 L488.11,205.41 L488.18,205.10 L488.24,204.79 L488.31,204.48 L488.37,204.17 L488.44,203.86 L488.50,203.55 L488.57,203.24 L488.63,202.93 L488.69,202.62 L488.76,202.30 L488.82,201.99 L488.88,201.68 L488.94,201.36 L489.00,201.05 L489.07,200.74 L489.13,200.42 L489.19,200.10 L489.25,199.79 L489.31,199.47 L489.37,199.15 L489.43,198.84 L489.49,198.52 L489.54,198.20 L489.60,197.88 L489.66,197.56 L489.72,197.24 L489.78,196.92 L489.84,196.60 L489.90,196.28 L489.96,195.96 L490.02,195.64 L490.08,195.32 L490.14,195.01 L490.21,194.69 L490.27,194.37 L490.34,194.06 L490.41,193.74 L490.47,193.43 L490.54,193.11 L490.62,192.80 L490.69,192.49 L490.76,192.18 L490.84,191.87 L490.92,191.57 L491.00,191.26 L491.09,190.96 L491.17,190.66 L491.26,190.36 L491.35,190.06 L491.44,189.76 L491.54,189.47 L491.64,189.18 L491.74,188.89 L491.85,188.60 L491.96,188.32 L492.07,188.04 L492.19,187.76 L492.31,187.48 L492.43,187.21 L492.56,186.94 L492.69,186.67 L492.82,186.41 L492.96,186.15 L493.10,185.89 L493.25,185.64 L493.40,185.39 L493.56,185.14 L493.72,184.90 L493.89,184.66 L494.06,184.42 L494.23,184.19 L494.41,183.97 L494.59,183.74 L494.78,183.52 L494.97,183.31 L495.17,183.09 L495.37,182.88 L495.57,182.68 L495.78,182.48 L495.99,182.28 L496.21,182.09 L496.42,181.90 L496.65,181.71 L496.87,181.53 L497.10,181.36 L497.33,181.18 L497.57,181.01 L497.80,180.85 L498.04,180.69 L498.29,180.53 L498.53,180.37 L498.78,180.22 L499.03,180.08 L499.29,179.93 L499.55,179.79 L499.81,179.66 L500.07,179.53 L500.33,179.40 L500.60,179.27 L500.87,179.15 L501.14,179.03 L501.42,178.92 L501.69,178.80 L501.97,178.70 L502.25,178.59 L502.54,178.49 L502.82,178.39 L503.11,178.29 L503.40,178.19 L503.69,178.10 L503.98,178.01 L504.28,177.93 L504.58,177.84 L504.87,177.76 L505.17,177.68 L505.48,177.61 L505.78,177.53 L506.08,177.46 L506.39,177.39 L506.70,177.33 L507.01,177.26 L507.32,177.20 L507.63,177.14 L507.94,177.08 L508.26,177.02 L508.57,176.97 L508.89,176.92 L509.21,176.87 L509.53,176.82 L509.85,176.77 L510.17,176.72 L510.49,176.68 L510.81,176.64 L511.14,176.60 L511.46,176.56 L511.78,176.52 L512.11,176.48 L512.43,176.44 L512.76,176.41 L513.09,176.38 L513.41,176.34 L513.74,176.31 L514.07,176.28 L514.40,176.25 L514.73,176.23 L515.06,176.20 L515.38,176.17 L515.71,176.14 L516.04,176.12 L516.37,176.09 L516.70,176.07 L517.03,176.05 L517.36,176.02 L517.68,176.00 L518.01,175.98 L518.34,175.95 L518.67,175.93 L519.00,175.91 L519.32,175.89 L519.65,175.87 L519.97,175.84 L520.30,175.82 L520.62,175.80 L520.95,175.78 L521.27,175.76 L521.59,175.73 L521.91,175.71 L522.23,175.69 L522.55,175.66 L522.87,175.64 L523.19,175.62 L523.51,175.59 L523.82,175.56 L524.14,175.54 L524.45,175.51 L524.76,175.49 L525.08,175.46 L525.39,175.43 L525.70,175.41 L526.01,175.38 L526.32,175.35 L526.63,175.32 L526.94,175.29 L527.25,175.26 L527.55,175.23 L527.86,175.21 L528.17,175.18 L528.47,175.15 L528.78,175.12 L529.08,175.09 L529.38,175.06 L529.69,175.02 L529.99,174.99 L530.29,174.96 L530.59,174.93 L530.90,174.90 L531.20,174.87 L531.50,174.84 L531.80,174.81 L532.10,174.78 L532.40,174.74 L532.70,174.71 L533.00,174.68 L533.29,174.65 L533.59,174.62 L533.89,174.59 L534.19,174.55 L534.49,174.52 L534.79,174.49 L535.08,174.46 L535.38,174.43 L535.68,174.40 L535.98,174.36 L536.27,174.33 L536.57,174.30 L536.87,174.27 L537.17,174.24 L537.46,174.21 L537.76,174.18 L538.06,174.15 L538.35,174.12 L538.65,174.09 L538.95,174.06 L539.25,174.03 L539.55,174.00 L539.84,173.97 L540.14,173.94 L540.44,173.91 L540.74,173.88 L541.04,173.85 L541.34,173.82 L541.64,173.80 L541.94,173.77 L542.24,173.74 L542.54,173.72 L542.84,173.69 L543.14,173.66 L543.44,173.64 L543.74,173.61 L544.04,173.59 L544.35,173.56 L544.65,173.54 L544.95,173.51 L545.26,173.49 L545.56,173.47 L545.87,173.45 L546.18,173.42 L546.48,173.40 L546.79,173.38 L547.10,173.36 L547.41,173.34 L547.71,173.32 L548.02,173.30 L548.34,173.28 L548.65,173.27 L548.96,173.25 L549.27,173.23 L549.58,173.22 L549.90,173.20 L550.21,173.19 L550.53,173.17 L550.85,173.16 L551.17,173.15 L551.48,173.13 L551.80,173.12 L552.12,173.11 L552.45,173.10 L552.77,173.09 L553.09,173.08 L553.42,173.08 L553.74,173.07 L554.07,173.06 L554.40,173.06 L554.73,173.05 L555.06,173.05 L555.39,173.04 L555.72,173.04 L556.05,173.04 L556.39,173.04 L556.72,173.04 L557.06,173.04" fill="none" stroke="#d82020" stroke-width="1.3" stroke-linejoin="round" stroke-linecap="round" clip-path="url(#ce)"/>
<text transform="translate(437.00 176.60)" font-size="9.4" text-anchor="start" fill="#111" stroke="#111" stroke-width="0.1" ><tspan font-style="italic">V</tspan><tspan font-style="italic" font-size="6.5" dy="1.7">g</tspan><tspan dy="-1.7">-dependent</tspan></text>
<text transform="translate(437.00 188.40)" font-size="9.4" text-anchor="start" fill="#111" stroke="#111" stroke-width="0.1" >mobility</text>
<path d="M462.20,217.30 L468.50,210.60 L468.50,213.75 L480.00,213.75 L480.00,220.85 L468.50,220.85 L468.50,224.00 Z" fill="#fff" stroke="#e05a5a" stroke-width="1.0" stroke-linejoin="miter"/>
<path d="M553.00,203.70 L546.30,197.10 L546.30,200.30 L535.60,200.30 L535.60,207.10 L546.30,207.10 L546.30,210.30 Z" fill="#fff" stroke="#444" stroke-width="1.0" stroke-linejoin="miter"/>
<text transform="translate(539.60 234.40)" font-size="11.5" text-anchor="start" fill="#111" stroke="#111" stroke-width="0.1" >(e)</text>
<line x1="432.60" y1="3.50" x2="556.90" y2="3.50" stroke="#1a1a1a" stroke-width="1.0" />
<line x1="432.60" y1="3.00" x2="432.60" y2="240.90" stroke="#1a1a1a" stroke-width="1.1" />
<line x1="556.90" y1="3.00" x2="556.90" y2="240.90" stroke="#1a1a1a" stroke-width="1.1" />
<line x1="432.60" y1="82.40" x2="556.90" y2="82.40" stroke="#1a1a1a" stroke-width="1.1" />
<line x1="432.60" y1="162.10" x2="556.90" y2="162.10" stroke="#1a1a1a" stroke-width="1.1" />
<line x1="432.10" y1="240.40" x2="557.40" y2="240.40" stroke="#1a1a1a" stroke-width="1.1" />
<line x1="453.32" y1="82.40" x2="453.32" y2="80.20" stroke="#1a1a1a" stroke-width="1.0" />
<line x1="453.32" y1="162.10" x2="453.32" y2="159.90" stroke="#1a1a1a" stroke-width="1.0" />
<line x1="453.32" y1="240.40" x2="453.32" y2="238.20" stroke="#1a1a1a" stroke-width="1.0" />
<line x1="474.04" y1="82.40" x2="474.04" y2="80.20" stroke="#1a1a1a" stroke-width="1.0" />
<line x1="474.04" y1="162.10" x2="474.04" y2="159.90" stroke="#1a1a1a" stroke-width="1.0" />
<line x1="474.04" y1="240.40" x2="474.04" y2="238.20" stroke="#1a1a1a" stroke-width="1.0" />
<line x1="494.76" y1="82.40" x2="494.76" y2="80.20" stroke="#1a1a1a" stroke-width="1.0" />
<line x1="494.76" y1="162.10" x2="494.76" y2="159.90" stroke="#1a1a1a" stroke-width="1.0" />
<line x1="494.76" y1="240.40" x2="494.76" y2="238.20" stroke="#1a1a1a" stroke-width="1.0" />
<line x1="515.48" y1="82.40" x2="515.48" y2="80.20" stroke="#1a1a1a" stroke-width="1.0" />
<line x1="515.48" y1="162.10" x2="515.48" y2="159.90" stroke="#1a1a1a" stroke-width="1.0" />
<line x1="515.48" y1="240.40" x2="515.48" y2="238.20" stroke="#1a1a1a" stroke-width="1.0" />
<line x1="536.20" y1="82.40" x2="536.20" y2="80.20" stroke="#1a1a1a" stroke-width="1.0" />
<line x1="536.20" y1="162.10" x2="536.20" y2="159.90" stroke="#1a1a1a" stroke-width="1.0" />
<line x1="536.20" y1="240.40" x2="536.20" y2="238.20" stroke="#1a1a1a" stroke-width="1.0" />
<text transform="translate(437.00 251.60) scale(1 1.1)" font-size="9" text-anchor="middle" fill="#111" stroke="#111" stroke-width="0.1" >-58</text>
<text transform="translate(475.64 251.60) scale(1 1.1)" font-size="9" text-anchor="middle" fill="#111" stroke="#111" stroke-width="0.1" >-56</text>
<text transform="translate(517.28 251.60) scale(1 1.1)" font-size="9" text-anchor="middle" fill="#111" stroke="#111" stroke-width="0.1" >-54</text>
<text transform="translate(557.42 251.60) scale(1 1.1)" font-size="9" text-anchor="middle" fill="#111" stroke="#111" stroke-width="0.1" >-52</text>
<line x1="432.60" y1="159.25" x2="434.20" y2="159.25" stroke="#1a1a1a" stroke-width="0.9" />
<line x1="432.60" y1="153.70" x2="434.20" y2="153.70" stroke="#1a1a1a" stroke-width="0.9" />
<line x1="432.60" y1="148.15" x2="435.60" y2="148.15" stroke="#1a1a1a" stroke-width="0.9" />
<line x1="432.60" y1="142.60" x2="434.20" y2="142.60" stroke="#1a1a1a" stroke-width="0.9" />
<line x1="432.60" y1="137.05" x2="434.20" y2="137.05" stroke="#1a1a1a" stroke-width="0.9" />
<line x1="432.60" y1="131.50" x2="435.60" y2="131.50" stroke="#1a1a1a" stroke-width="0.9" />
<line x1="432.60" y1="125.95" x2="434.20" y2="125.95" stroke="#1a1a1a" stroke-width="0.9" />
<line x1="432.60" y1="120.40" x2="434.20" y2="120.40" stroke="#1a1a1a" stroke-width="0.9" />
<line x1="432.60" y1="114.85" x2="435.60" y2="114.85" stroke="#1a1a1a" stroke-width="0.9" />
<line x1="432.60" y1="109.30" x2="434.20" y2="109.30" stroke="#1a1a1a" stroke-width="0.9" />
<line x1="432.60" y1="103.75" x2="434.20" y2="103.75" stroke="#1a1a1a" stroke-width="0.9" />
<line x1="432.60" y1="98.20" x2="435.60" y2="98.20" stroke="#1a1a1a" stroke-width="0.9" />
<line x1="432.60" y1="92.65" x2="434.20" y2="92.65" stroke="#1a1a1a" stroke-width="0.9" />
<line x1="432.60" y1="87.10" x2="434.20" y2="87.10" stroke="#1a1a1a" stroke-width="0.9" />
<text transform="translate(422.30 102.10) scale(1 1.1)" font-size="9" text-anchor="end" fill="#111" stroke="#111" stroke-width="0.1" >10</text>
<text transform="translate(422.50 98.50) scale(1 1.1)" font-size="6.3" text-anchor="start" fill="#111" stroke="#111" stroke-width="0.1" >-3</text>
<text transform="translate(422.30 118.75) scale(1 1.1)" font-size="9" text-anchor="end" fill="#111" stroke="#111" stroke-width="0.1" >10</text>
<text transform="translate(422.50 115.15) scale(1 1.1)" font-size="6.3" text-anchor="start" fill="#111" stroke="#111" stroke-width="0.1" >-6</text>
<text transform="translate(422.30 135.40) scale(1 1.1)" font-size="9" text-anchor="end" fill="#111" stroke="#111" stroke-width="0.1" >10</text>
<text transform="translate(422.50 131.80) scale(1 1.1)" font-size="6.3" text-anchor="start" fill="#111" stroke="#111" stroke-width="0.1" >-9</text>
<text transform="translate(418.30 152.05) scale(1 1.1)" font-size="9" text-anchor="end" fill="#111" stroke="#111" stroke-width="0.1" >10</text>
<text transform="translate(418.50 148.45) scale(1 1.1)" font-size="6.3" text-anchor="start" fill="#111" stroke="#111" stroke-width="0.1" >-12</text>
<line x1="556.90" y1="149.00" x2="553.90" y2="149.00" stroke="#1a1a1a" stroke-width="1.0" />
<text transform="translate(560.80 152.60) scale(1 1.1)" font-size="9" text-anchor="start" fill="#111" stroke="#111" stroke-width="0.1" >0.00</text>
<line x1="556.90" y1="123.00" x2="553.90" y2="123.00" stroke="#1a1a1a" stroke-width="1.0" />
<text transform="translate(560.80 126.60) scale(1 1.1)" font-size="9" text-anchor="start" fill="#111" stroke="#111" stroke-width="0.1" >0.02</text>
<line x1="556.90" y1="97.00" x2="553.90" y2="97.00" stroke="#1a1a1a" stroke-width="1.0" />
<text transform="translate(560.80 100.60) scale(1 1.1)" font-size="9" text-anchor="start" fill="#111" stroke="#111" stroke-width="0.1" >0.04</text>
<line x1="556.90" y1="136.00" x2="555.30" y2="136.00" stroke="#1a1a1a" stroke-width="1.0" />
<line x1="556.90" y1="110.00" x2="555.30" y2="110.00" stroke="#1a1a1a" stroke-width="1.0" />
<line x1="432.60" y1="238.61" x2="434.20" y2="238.61" stroke="#1a1a1a" stroke-width="0.9" />
<line x1="432.60" y1="233.00" x2="434.20" y2="233.00" stroke="#1a1a1a" stroke-width="0.9" />
<line x1="432.60" y1="227.39" x2="435.60" y2="227.39" stroke="#1a1a1a" stroke-width="0.9" />
<line x1="432.60" y1="221.78" x2="434.20" y2="221.78" stroke="#1a1a1a" stroke-width="0.9" />
<line x1="432.60" y1="216.17" x2="434.20" y2="216.17" stroke="#1a1a1a" stroke-width="0.9" />
<line x1="432.60" y1="210.56" x2="435.60" y2="210.56" stroke="#1a1a1a" stroke-width="0.9" />
<line x1="432.60" y1="204.95" x2="434.20" y2="204.95" stroke="#1a1a1a" stroke-width="0.9" />
<line x1="432.60" y1="199.34" x2="434.20" y2="199.34" stroke="#1a1a1a" stroke-width="0.9" />
<line x1="432.60" y1="193.73" x2="435.60" y2="193.73" stroke="#1a1a1a" stroke-width="0.9" />
<line x1="432.60" y1="188.12" x2="434.20" y2="188.12" stroke="#1a1a1a" stroke-width="0.9" />
<line x1="432.60" y1="182.51" x2="434.20" y2="182.51" stroke="#1a1a1a" stroke-width="0.9" />
<line x1="432.60" y1="176.90" x2="435.60" y2="176.90" stroke="#1a1a1a" stroke-width="0.9" />
<line x1="432.60" y1="171.29" x2="434.20" y2="171.29" stroke="#1a1a1a" stroke-width="0.9" />
<line x1="432.60" y1="165.68" x2="434.20" y2="165.68" stroke="#1a1a1a" stroke-width="0.9" />
<text transform="translate(422.30 180.80) scale(1 1.1)" font-size="9" text-anchor="end" fill="#111" stroke="#111" stroke-width="0.1" >10</text>
<text transform="translate(422.50 177.20) scale(1 1.1)" font-size="6.3" text-anchor="start" fill="#111" stroke="#111" stroke-width="0.1" >-3</text>
<text transform="translate(422.30 197.63) scale(1 1.1)" font-size="9" text-anchor="end" fill="#111" stroke="#111" stroke-width="0.1" >10</text>
<text transform="translate(422.50 194.03) scale(1 1.1)" font-size="6.3" text-anchor="start" fill="#111" stroke="#111" stroke-width="0.1" >-6</text>
<text transform="translate(422.30 214.46) scale(1 1.1)" font-size="9" text-anchor="end" fill="#111" stroke="#111" stroke-width="0.1" >10</text>
<text transform="translate(422.50 210.86) scale(1 1.1)" font-size="6.3" text-anchor="start" fill="#111" stroke="#111" stroke-width="0.1" >-9</text>
<text transform="translate(418.30 231.29) scale(1 1.1)" font-size="9" text-anchor="end" fill="#111" stroke="#111" stroke-width="0.1" >10</text>
<text transform="translate(418.50 227.69) scale(1 1.1)" font-size="6.3" text-anchor="start" fill="#111" stroke="#111" stroke-width="0.1" >-12</text>
<line x1="556.90" y1="227.60" x2="553.90" y2="227.60" stroke="#1a1a1a" stroke-width="1.0" />
<text transform="translate(560.80 231.20) scale(1 1.1)" font-size="9" text-anchor="start" fill="#111" stroke="#111" stroke-width="0.1" >0.000</text>
<line x1="556.90" y1="201.70" x2="553.90" y2="201.70" stroke="#1a1a1a" stroke-width="1.0" />
<text transform="translate(560.80 205.30) scale(1 1.1)" font-size="9" text-anchor="start" fill="#111" stroke="#111" stroke-width="0.1" >0.002</text>
<line x1="556.90" y1="175.80" x2="553.90" y2="175.80" stroke="#1a1a1a" stroke-width="1.0" />
<text transform="translate(560.80 179.40) scale(1 1.1)" font-size="9" text-anchor="start" fill="#111" stroke="#111" stroke-width="0.1" >0.004</text>
<line x1="556.90" y1="214.65" x2="555.30" y2="214.65" stroke="#1a1a1a" stroke-width="1.0" />
<line x1="556.90" y1="188.75" x2="555.30" y2="188.75" stroke="#1a1a1a" stroke-width="1.0" />
<text transform="translate(481.40 265.50)" font-size="10.5" text-anchor="start" fill="#111" stroke="#111" stroke-width="0.1" ><tspan font-style="italic">V</tspan><tspan font-style="italic" font-size="7.5" dy="2.4">gs</tspan><tspan dy="-2.4"> (V)</tspan></text>
<text transform="translate(404.40 178.50) rotate(-90)" font-size="10.5" text-anchor="start" fill="#111" stroke="#111" stroke-width="0.1" ><tspan font-style="italic">I</tspan><tspan font-style="italic" font-size="7.5" dy="2.4">ds</tspan><tspan dy="-2.4"> (μA)</tspan></text>
<text transform="translate(601.20 177.60) rotate(-90)" font-size="11.8" text-anchor="start" fill="#111" stroke="#111" stroke-width="0.1" ><tspan font-style="italic">I</tspan><tspan font-style="italic" font-size="8.4" dy="2.6">ds</tspan><tspan dy="-2.6"> (μA)</tspan></text>
</svg>
</body></html>
